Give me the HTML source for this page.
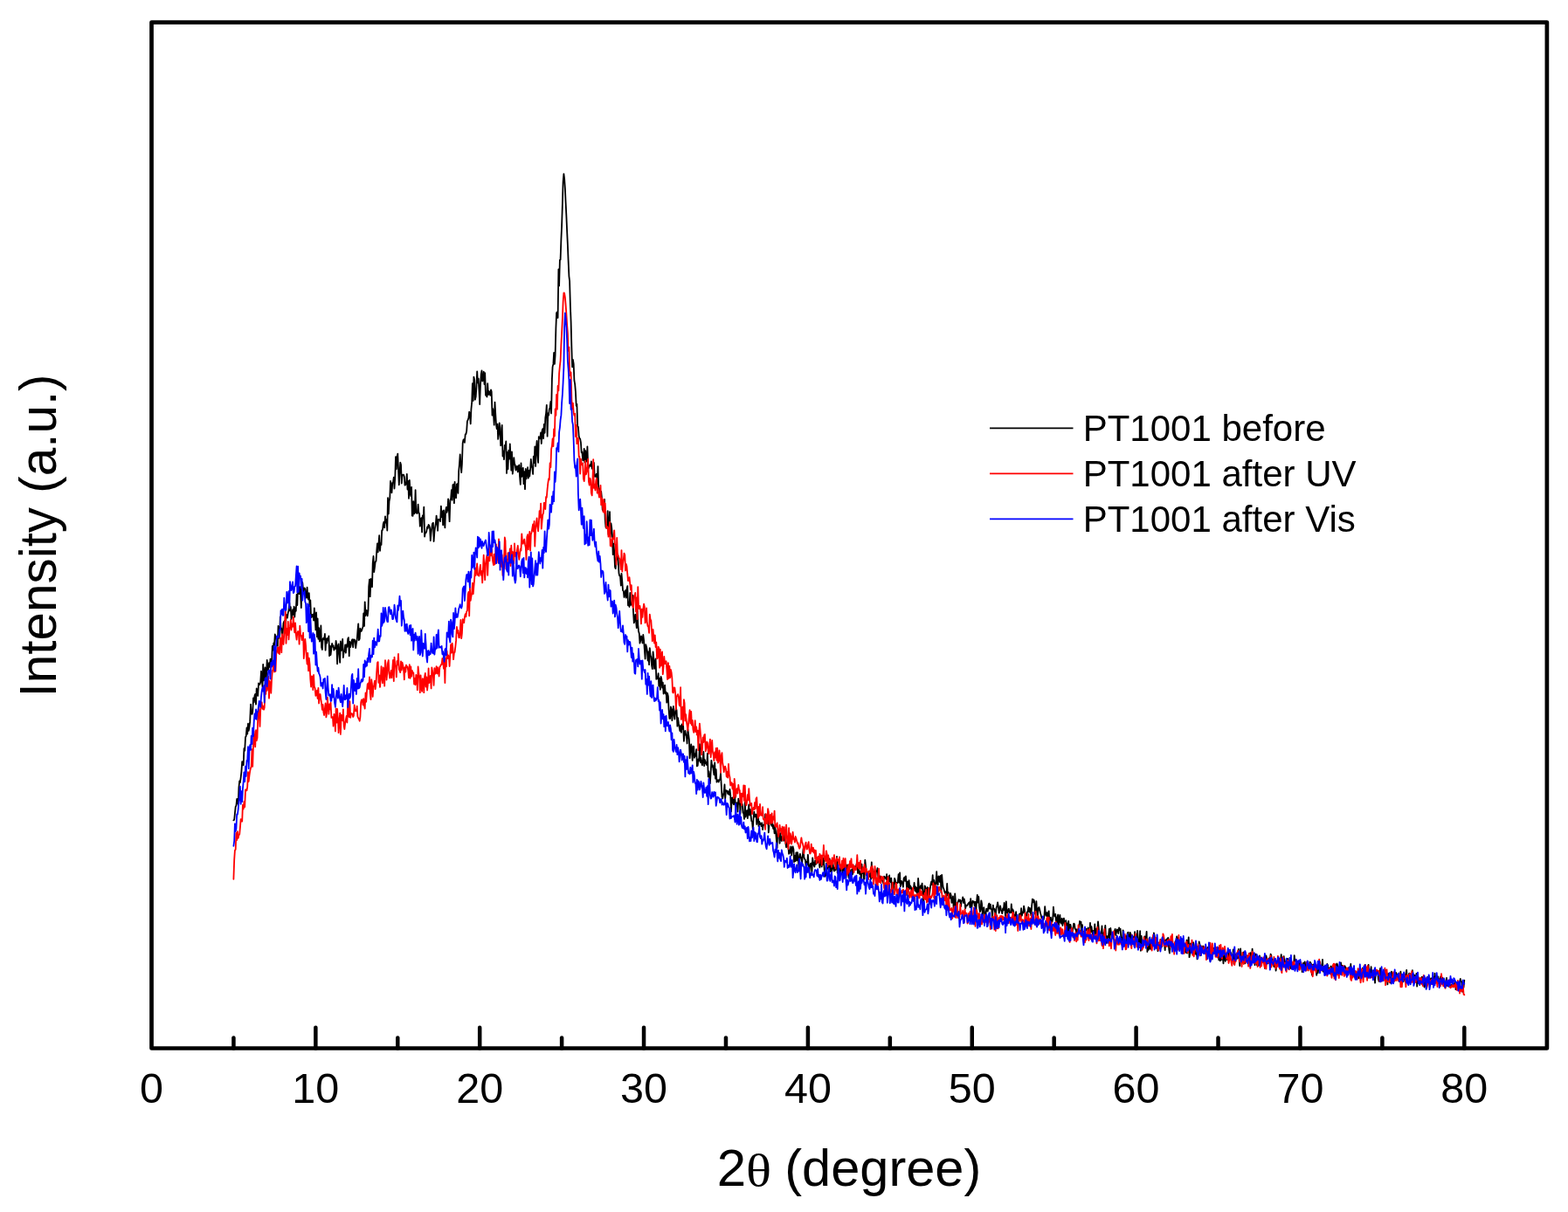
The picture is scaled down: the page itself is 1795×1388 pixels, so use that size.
<!DOCTYPE html>
<html><head><meta charset="utf-8"><title>XRD</title>
<style>
html,body{margin:0;padding:0;background:#fff;}
body{width:1795px;height:1388px;overflow:hidden;}
svg{display:block;}
text{font-family:"Liberation Sans",Arial,sans-serif;fill:#000;}
</style></head><body>
<svg width="1795" height="1388" viewBox="0 0 1795 1388">
<rect x="0" y="0" width="1795" height="1388" fill="#fff"/>
<g fill="none" stroke-linejoin="round" stroke-linecap="round" stroke-width="1.8">
<path stroke="#000" d="M267.4 939.4l.8 -.7 .7 -7.1 .8 -7.8 .7 -1 .8 -8 .7 2.7 .8 3.7 .7 -19.2 .8 -7.6 .7 1.7 .8 -6 .7 -6.3 .8 -11.7 .7 2.7 .8 1.5 .7 -19.1 .8 2.4 .8 -15.5 .7 -.8 .8 -9.8 .7 7.2 .8 -12 .7 8.1 .8 -4.4 .7 -6 .8 -19.8 .7 10.7 .8 .6 .7 -2 .8 -16.4 .7 4.9 .8 -7.5 .7 -2 .8 11.8 .7 -18.2 .8 3.4 .7 5 .8 -14.4 .7 1.6 .8 -.4 .7 -2.4 .8 -12.6 .7 8.9 .8 8.9 .7 -25.7 .8 18.5 .7 -7.5 .8 -7.5 .7 20.9 .8 -11.5 .7 -17.7 .8 9.2 .7 2.5 .8 -8.5 .8 4.7 .7 -9.3 .8 3 .7 3.4 .8 -21 .7 4.6 .8 -8.1 .7 3.1 .8 -13.2 .7 3.4 .8 1.7 .7 7.8 .8 .6 .7 -23 .8 3.1 .7 10.9 .8 -24.4 .7 11.8 .8 1.8 .7 10.4 .8 -6.4 .7 -10.4 .8 -2 .7 -.7 .8 13.6 .7 -19.5 .8 -1.1 .7 3.6 .8 -6.1 .7 -2.2 .8 -9.1 .7 9.2 .8 -4.2 .7 14 .8 -4.8 .8 -6.3 .7 5.9 .8 -9.4 .7 12 .8 -10.4 .7 3.6 .8 -19 .7 12.2 .8 -20.9 .7 -5.5 .8 13.5 .7 -7.9 .8 7.1 .7 16.7 .8 -29.7 .7 1 .8 7.7 .7 3.3 .8 -5 .7 1.2 .8 10 .7 .2 .8 -12 .7 10.8 .8 3.1 .7 -7.4 .8 14.8 .7 -6.7 .8 19.9 .7 -3.4 .8 2.6 .7 -2.7 .8 7 .7 -14.3 .8 9.8 .8 15.2 .7 -19.9 .8 27.8 .7 -20.9 .8 23.4 .7 -12.6 .8 15.4 .7 -4.6 .8 -13.5 .7 25 .8 2.5 .7 -12.3 .8 -1.1 .7 1.7 .8 -6.3 .7 18.7 .8 -13.3 .7 5.1 .8 -5.5 .7 2.3 .8 -4.8 .7 22.6 .8 -11.4 .7 10.3 .8 -7.6 .7 -5.4 .8 3.7 .7 -1.5 .8 5.4 .7 -2.8 .8 1.1 .7 -8.9 .8 5.1 .7 21.2 .8 -19.7 .7 -3.1 .8 12 .8 9.3 .7 -24.3 .8 10.7 .7 -3.6 .8 -9.6 .7 21 .8 -7 .7 .2 .8 -7.9 .7 9.4 .8 -9.4 .7 2.5 .8 -9.1 .7 -1.6 .8 21.2 .7 -16.4 .8 6.2 .7 -3.4 .8 -4.2 .7 -1.3 .8 9.1 .7 -8.9 .8 .3 .7 .5 .8 8.9 .7 -5.5 .8 -3.9 .7 -9.6 .8 -8.7 .7 18.7 .8 -1.6 .7 -11.9 .8 3.5 .7 -.6 .8 -2.5 .8 -2.2 .7 -15.3 .8 14.4 .7 -27.6 .8 15.8 .7 -6.2 .8 .4 .7 6.1 .8 -6.6 .7 -27 .8 -8.2 .7 19.5 .8 -20.1 .7 5.4 .8 3.9 .7 -26.9 .8 -8.4 .7 18 .8 -5.7 .7 -6.1 .8 -.5 .7 -11.4 .8 -8.9 .7 10 .8 -10.2 .7 -9.1 .8 17.7 .7 -8.3 .8 1.4 .7 -16.6 .8 -.3 .7 -6.8 .8 -2.6 .7 6.8 .8 -13.1 .7 7.4 .8 -3.9 .8 12.7 .7 -37.4 .8 18.4 .7 -14.1 .8 -4.2 .7 -19.2 .8 5.2 .7 8.1 .8 -11.3 .7 -.7 .8 -5.7 .7 12.9 .8 -13.2 .7 -23.2 .8 14.2 .7 -13.8 .8 -3.9 .7 17.3 .8 18.4 .7 -13.3 .8 -12.3 .7 2.5 .8 21.3 .7 -9.4 .8 -.5 .7 0 .8 2.5 .7 9.6 .8 -.7 .7 -1.5 .8 -10.6 .7 17.6 .8 -9.7 .7 20 .8 -21 .8 14 .7 4.2 .8 -10.2 .7 32.9 .8 .1 .7 -16.6 .8 14.2 .7 -2.3 .8 -24.9 .7 26.3 .8 -1.9 .7 2.4 .8 -10.4 .7 8.9 .8 1.8 .7 14.3 .8 -7.2 .7 -2.2 .8 16.2 .7 -19 .8 2.9 .7 -12.6 .8 33.9 .7 -4.8 .8 .4 .7 -1.8 .8 -4.9 .7 1.5 .8 -4 .7 .9 .8 2.8 .7 14.4 .8 -9 .7 -5.7 .8 -5 .8 -.6 .7 21.2 .8 -11.1 .7 -5 .8 -4.9 .7 -8.4 .8 9.1 .7 8.1 .8 -13.2 .7 .8 .8 -.8 .7 2.5 .8 -17.4 .7 12.5 .8 -6.9 .7 16 .8 -17 .7 12 .8 8.1 .7 -19.3 .8 -4.3 .7 6 .8 -3.7 .7 -11.7 .8 12.4 .7 13.3 .8 -24.4 .7 -1.4 .8 -10.2 .7 11.7 .8 -17.5 .7 -.7 .8 21.5 .7 -24.3 .8 17.1 .7 1.4 .8 -15.8 .8 -.4 .7 10.7 .8 -25.2 .7 -7.7 .8 -11.5 .7 10.3 .8 10.5 .7 -9.7 .8 -24 .7 -3.6 .8 -.9 .7 3.8 .8 -9.5 .7 -.1 .8 -3.7 .7 -10.9 .8 -1.9 .7 -1.8 .8 -7.2 .7 2.4 .8 11.3 .7 -16.5 .8 -8.5 .7 -21.2 .8 19.7 .7 -27.3 .8 3.7 .7 22.4 .8 -3.3 .7 -10.7 .8 -18.3 .7 12.9 .8 -4.7 .7 12.9 .8 16.5 .8 -22.9 .7 -11.4 .8 -4.4 .7 12.2 .8 -.9 .7 -10 .8 14.4 .7 -12.8 .8 25.4 .7 .5 .8 1.4 .7 -15.3 .8 12.9 .7 -4 .8 .6 .7 4.2 .8 -6.5 .7 2.1 .8 27.2 .7 -7.5 .8 7.3 .7 11.1 .8 -26 .7 12.8 .8 12.8 .7 4.9 .8 -5.4 .7 17.2 .8 -6.1 .7 -12.4 .8 5.5 .7 20.4 .8 -1.3 .7 -22.2 .8 35.7 .8 -5.9 .7 9.5 .8 -16.2 .7 2.4 .8 -7 .7 36.6 .8 -24 .7 19.5 .8 -21.5 .7 9.8 .8 -17.2 .7 14.7 .8 15.5 .7 -21.2 .8 25.2 .7 -6 .8 -12.6 .7 6.8 .8 1.9 .7 5.7 .8 -3.3 .7 -1.4 .8 6.7 .7 -6.2 .8 -1.8 .7 13 .8 9.4 .7 -24.4 .8 15.4 .7 -6.7 .8 -3.4 .7 18.3 .8 -14 .7 20.1 .8 -23.2 .7 11.3 .8 -6.9 .8 -6.2 .7 12.5 .8 -8.7 .7 6.5 .8 -7.8 .7 -11.7 .8 8.8 .7 .3 .8 7.9 .7 -20.3 .8 7.4 .7 -18.8 .8 22.6 .7 -19.5 .8 -9.4 .7 15.5 .8 9.4 .7 -29.8 .8 1.6 .7 .5 .8 -6.9 .7 12.7 .8 -15 .7 -1.8 .8 11.1 .7 -16.4 .8 9.9 .7 -17.3 .8 -5.2 .7 -9.5 .8 35.9 .7 -26.4 .8 2.4 .7 -6.8 .8 -2.5 .8 -6.5 .7 13.5 .8 -39.3 .7 -14 .8 -3.2 .7 -12.9 .8 12.9 .7 -10.1 .8 -31.4 .7 -17.1 .8 -1.1 .7 6.8 .8 -55.7 .7 19 .8 -29.6 .7 -.5 .8 -23.2 .7 -15.4 .8 -25.3 .7 -24.7 .8 -9.5 .7 5.2 .8 11.7 .7 15.7 .8 16.1 .7 16.3 .8 16.9 .7 17.4 .8 17.9 .7 5.5 .8 28.8 .7 17.1 .8 31.1 .7 21.5 .8 -8.5 .8 5.2 .7 18.7 .8 4.4 .7 8.2 .8 16.4 .7 -1.8 .8 25.7 .7 .2 .8 10.8 .7 2.1 .8 1.1 .7 3.8 .8 11.7 .7 -.8 .8 9.8 .7 -.8 .8 -12.6 .7 15.7 .8 -13.4 .7 8.3 .8 4.2 .7 -17.3 .8 22.9 .7 1.6 .8 -2.1 .7 -1.6 .8 1.5 .7 -5.2 .8 8.1 .7 -1.9 .8 7.4 .7 -12.1 .8 15.6 .7 .2 .8 -1.5 .7 -1.6 .8 11.6 .8 -20.2 .7 24.2 .8 1.3 .7 4.3 .8 5.2 .7 -6.1 .8 8 .7 12.6 .8 1.3 .7 .9 .8 -13.9 .7 22.9 .8 8.9 .7 1.1 .8 -4.9 .7 -14.7 .8 26.8 .7 -7.8 .8 -18.1 .7 28.5 .8 -15.1 .7 4.8 .8 9.4 .7 21.3 .8 -12.4 .7 9.4 .8 17.3 .7 1.8 .8 -12.6 .7 2.1 .8 -6.2 .7 8.5 .8 13.6 .7 2.8 .8 .2 .8 11 .7 -13.6 .8 9.2 .7 9.8 .8 1.2 .7 6.9 .8 -3.7 .7 -4.1 .8 8.4 .7 -10 .8 -3.5 .7 22.2 .8 -3.6 .7 5.3 .8 -16 .7 13.8 .8 -.1 .7 -.5 .8 -10.5 .7 19 .8 12.7 .7 -2.8 .8 -6.9 .7 6.9 .8 8.6 .7 -25.1 .8 20.9 .7 7.7 .8 3.1 .7 10.8 .8 -3 .7 -5.2 .8 1.9 .7 6.2 .8 -9.5 .8 6.4 .7 10.1 .8 11 .7 -16.3 .8 2.8 .7 3.9 .8 11.6 .7 -10 .8 14.6 .7 -19 .8 8.4 .7 1.6 .8 10.1 .7 4 .8 -19.7 .7 6.9 .8 12.5 .7 -6.3 .8 -5.2 .7 23.4 .8 -2.5 .7 2 .8 -6.1 .7 14.4 .8 -8.6 .7 12.8 .8 -14.8 .7 2.2 .8 10.3 .7 -5.9 .8 12.9 .7 -1.8 .8 -8.1 .7 9.8 .8 -1.8 .7 12 .8 -10.7 .8 3.5 .7 15.2 .8 10.3 .7 0 .8 -13.4 .7 3.3 .8 12.4 .7 -11.3 .8 -4.9 .7 10.4 .8 4.3 .7 -8.4 .8 -4.8 .7 3.2 .8 18 .7 -9.6 .8 6.3 .7 4.1 .8 4.6 .7 -6 .8 7.8 .7 -9.4 .8 5.4 .7 -3.9 .8 17.8 .7 -7.7 .8 -4.2 .7 4.2 .8 2.1 .7 8.3 .8 -16.4 .7 5.5 .8 6.2 .7 21.5 .8 -9.1 .8 -6.9 .7 7.3 .8 11.3 .7 -16.2 .8 .2 .7 12.9 .8 -4.3 .7 2.4 .8 -7.8 .7 19.3 .8 -.6 .7 -7.5 .8 1.9 .7 -19.1 .8 20.8 .7 -5.1 .8 5.7 .7 2.8 .8 -6.4 .7 -8.9 .8 16.2 .7 -7 .8 4.1 .7 -1 .8 2.9 .7 -13.3 .8 26.6 .7 -6.2 .8 7 .7 7 .8 -13.7 .7 -12.7 .8 7.2 .7 -1.7 .8 5.9 .7 5.1 .8 -14 .8 18.2 .7 -10.5 .8 14.6 .7 -1.9 .8 -.6 .7 2.4 .8 -2.7 .7 0 .8 -7.1 .7 12.5 .8 14.1 .7 1.9 .8 -3.8 .7 -3.3 .8 -8.7 .7 16.1 .8 -9.5 .7 1 .8 -.5 .7 3.6 .8 -2.7 .7 3.5 .8 -6 .7 6 .8 19.4 .7 -15.5 .8 -.4 .7 6.1 .8 1.8 .7 -12.2 .8 6.7 .7 8.2 .8 -4.1 .7 -.7 .8 10.4 .8 -15 .7 5.9 .8 -3.4 .7 14.7 .8 -22.6 .7 9.9 .8 2.2 .7 9.3 .8 .8 .7 6.5 .8 -19.2 .7 16.8 .8 -6 .7 -1.5 .8 9.1 .7 -8.9 .8 -6.9 .7 12.3 .8 -6.9 .7 6.3 .8 7.4 .7 .2 .8 9 .7 -11.5 .8 -8.5 .7 5.6 .8 -.8 .7 -1.8 .8 11.3 .7 -7.1 .8 -8.7 .7 18.1 .8 -5.3 .7 3.2 .8 -1.5 .8 3.5 .7 -3.9 .8 7.9 .7 -5.4 .8 -.2 .7 .1 .8 -12.4 .7 8.6 .8 -.6 .7 3.1 .8 -10.3 .7 20.3 .8 -9.6 .7 -8.1 .8 -2.4 .7 10.4 .8 2.2 .7 -3.2 .8 6.3 .7 -3.8 .8 9.1 .7 -7.1 .8 5.9 .7 8.1 .8 10 .7 -20.2 .8 4.7 .7 -1.4 .8 11.5 .7 -11.6 .8 5.2 .7 3.8 .8 -5.3 .7 1 .8 4 .7 -9.6 .8 5.1 .8 7.5 .7 4.5 .8 -1.3 .7 -9.2 .8 9.2 .7 8.8 .8 -.8 .7 -3.3 .8 -4.4 .7 10.2 .8 -7 .7 -3.1 .8 2.9 .7 14.7 .8 -7.2 .7 6.3 .8 -9.9 .7 9.2 .8 -9.4 .7 3.1 .8 15.6 .7 -9.3 .8 -7.7 .7 2.9 .8 2.9 .7 5.9 .8 -10.2 .7 -7.4 .8 9.5 .7 2.3 .8 1 .7 7.9 .8 -5.8 .7 3.5 .8 -11.4 .8 12.6 .7 8 .8 -7.7 .7 -2.8 .8 -.3 .7 10.2 .8 -16.6 .7 5 .8 3.5 .7 1.8 .8 -7.3 .7 4.6 .8 -3.6 .7 2.4 .8 -1.5 .7 -6.2 .8 6.9 .7 5.6 .8 -11.2 .7 4.6 .8 5.7 .7 -10.4 .8 7.9 .7 -7.4 .8 13.7 .7 7.4 .8 -1.4 .7 -13.5 .8 6.2 .7 -3.5 .8 .1 .7 9.1 .8 -17.3 .7 14.7 .8 -6.5 .8 9.1 .7 -7.3 .8 -5 .7 6 .8 3.1 .7 -4.1 .8 3 .7 -5.9 .8 -9.6 .7 18.7 .8 -1 .7 -3.1 .8 -.3 .7 6.1 .8 -8.8 .7 -1.3 .8 3.4 .7 8.6 .8 -15.3 .7 15.9 .8 -10.8 .7 -2.4 .8 14.5 .7 -7.9 .8 -7 .7 5.9 .8 8.1 .7 1.7 .8 -9.6 .7 5.2 .8 1.9 .7 -8.1 .8 5.9 .7 -3.3 .8 -4.4 .7 -1.4 .8 2 .8 -1 .7 -3.6 .8 .9 .7 9.5 .8 -5.4 .7 4.3 .8 2.2 .7 -3.4 .8 10.5 .7 -18.5 .8 10.3 .7 -6.4 .8 13.5 .7 -.5 .8 -21.7 .7 6.5 .8 10.3 .7 1.2 .8 .1 .7 -4.4 .8 3.6 .7 1.6 .8 -4 .7 7.1 .8 -19.4 .7 17.7 .8 -9.7 .7 12.3 .8 -6.9 .7 -3.7 .8 7.8 .7 -7.4 .8 .2 .7 -3.7 .8 9.5 .8 3.3 .7 3.3 .8 -6.7 .7 7.3 .8 -5.9 .7 -.5 .8 4.2 .7 3.1 .8 -8.1 .7 .8 .8 .7 .7 1.6 .8 -5.6 .7 11.7 .8 -8.3 .7 5.4 .8 -7.4 .7 7.2 .8 .5 .7 -4.6 .8 14.7 .7 -9.4 .8 8.6 .7 -4.5 .8 -9.2 .7 1.9 .8 5.2 .7 -1.8 .8 .3 .7 -1.6 .8 -8.6 .7 9.6 .8 -11.3 .7 15.6 .8 -6.1 .8 .4 .7 3.2 .8 3.2 .7 -9.7 .8 -1.5 .7 4.2 .8 -5.4 .7 6.5 .8 15 .7 -15.2 .8 10.1 .7 -11.7 .8 9.8 .7 -3.5 .8 1.6 .7 3.7 .8 6.9 .7 -9 .8 -.3 .7 -6.3 .8 9.1 .7 -4.8 .8 6.4 .7 -5 .8 10.5 .7 -21.4 .8 10.1 .7 7.1 .8 -6.7 .7 -2.2 .8 3.5 .7 -6 .8 9 .7 12.9 .8 -6.3 .7 -12.8 .8 1.5 .8 2.8 .7 8 .8 -10.5 .7 .6 .8 8.9 .7 -.3 .8 -7.4 .7 -4.7 .8 -3.6 .7 3.3 .8 -10.8 .7 15.5 .8 -9.8 .7 4.6 .8 6.1 .7 -5.8 .8 -14.6 .7 12.3 .8 2.8 .7 -9.8 .8 .3 .7 6.3 .8 -7.3 .7 19.5 .8 -20.5 .7 8.5 .8 6.2 .7 1.4 .8 3.3 .7 1.6 .8 -1.7 .7 8.7 .8 -17.8 .7 13.1 .8 -3.2 .8 5.6 .7 1.3 .8 -5.8 .7 2.2 .8 8.7 .7 -2 .8 -5.4 .7 15.7 .8 1.9 .7 -20.8 .8 10.3 .7 11.5 .8 -8.1 .7 -2.9 .8 -2.1 .7 -1.7 .8 2.1 .7 -1.7 .8 7.4 .7 -6.3 .8 -.1 .7 -4.2 .8 6.5 .7 -4.6 .8 4 .7 6.9 .8 -3.7 .7 .8 .8 -.7 .7 -1.6 .8 -1 .7 -.9 .8 6 .7 -10.1 .8 13.7 .8 -7.1 .7 -4.1 .8 1.7 .7 -.8 .8 4.9 .7 -4.6 .8 10.6 .7 -10.4 .8 -8.1 .7 8.8 .8 -6.8 .7 11 .8 6.3 .7 -2.1 .8 -10.8 .7 3.3 .8 14.2 .7 -7.9 .8 -1.6 .7 5.9 .8 7 .7 -5.4 .8 -6.2 .7 1.4 .8 1.6 .7 -6.7 .8 -2.3 .7 6.3 .8 -5.3 .7 5 .8 1 .7 12.3 .8 -17.2 .7 4.2 .8 -.1 .7 3.4 .8 3.5 .8 -8.2 .7 -1.7 .8 -4.3 .7 4 .8 8.2 .7 -2.5 .8 -5.7 .7 3.7 .8 2.3 .7 2.7 .8 -5.8 .7 2 .8 -8.4 .7 3.8 .8 15.2 .7 -20.6 .8 10.3 .7 3.2 .8 -3.1 .7 -2.2 .8 4.3 .7 .5 .8 -.3 .7 -9.6 .8 9.6 .7 -3.7 .8 1.9 .7 4.3 .8 2.4 .7 1.6 .8 -7.5 .7 7.9 .8 1.4 .7 -.1 .8 1.5 .8 -8.2 .7 -.1 .8 5.4 .7 -11.8 .8 8.5 .7 -4 .8 .7 .7 -7.6 .8 4.3 .7 4.3 .8 4.5 .7 .1 .8 -6.3 .7 -1.1 .8 -4.5 .7 5.7 .8 -4.8 .7 3.5 .8 5.3 .7 -10.5 .8 -8.5 .7 3.6 .8 -3 .7 1.9 .8 14.4 .7 -5.4 .8 -9 .7 12.5 .8 3.8 .7 -8.4 .8 -1.2 .7 2.4 .8 4 .7 2.4 .8 3.4 .7 .6 .8 .2 .8 1.3 .7 -3.5 .8 -11.6 .7 7.9 .8 2.7 .7 -3.5 .8 7.4 .7 -6.6 .8 -2.7 .7 13.2 .8 -3.9 .7 -2 .8 4.2 .7 1.1 .8 -3.5 .7 -13.7 .8 9.1 .7 1.5 .8 -2.4 .7 6.7 .8 5.6 .7 -8.6 .8 -3.1 .7 17.2 .8 -12.9 .7 -3.8 .8 8.1 .7 1.4 .8 -5.7 .7 8.2 .8 -6.4 .7 -2 .8 6.2 .7 3.4 .8 -7.1 .8 5.4 .7 -1.9 .8 12.8 .7 -15.5 .8 11.3 .7 -7.3 .8 -.1 .7 4.7 .8 1.2 .7 2.2 .8 -4.7 .7 -4.6 .8 .6 .7 5.7 .8 .6 .7 4.5 .8 -4.9 .7 3.5 .8 2.6 .7 -6.8 .8 -8.4 .7 1.8 .8 -1.1 .7 15.9 .8 -12.5 .7 11 .8 -3.1 .7 6 .8 -3.5 .7 -5.6 .8 -.3 .7 1.7 .8 .6 .7 -3.5 .8 2.7 .8 8.7 .7 -17 .8 10.3 .7 -5.9 .8 5.8 .7 3.5 .8 -4.5 .7 4.4 .8 -12 .7 14 .8 -8.7 .7 6.4 .8 -2.2 .7 -12.6 .8 8 .7 5.1 .8 7 .7 -6.4 .8 -.1 .7 -8.4 .8 14.6 .7 2.1 .8 -9 .7 -1.2 .8 -7.1 .7 13 .8 7.3 .7 -8 .8 3 .7 -3.6 .8 -7.7 .7 12 .8 -13 .7 5.4 .8 2.7 .7 3.3 .8 -2.2 .8 0 .7 -5.7 .8 -2.5 .7 7.1 .8 -3.7 .7 -2.9 .8 .5 .7 4.1 .8 -6.7 .7 2.8 .8 -1.3 .7 9.4 .8 1.4 .7 8.3 .8 -17.6 .7 4.4 .8 8.2 .7 -5.5 .8 -.4 .7 10.5 .8 -10.2 .7 -3.9 .8 -.7 .7 8.5 .8 0 .7 -8.2 .8 2.1 .7 7.8 .8 .3 .7 -5.9 .8 6.5 .7 -.1 .8 -11.6 .7 7.5 .8 3.8 .8 -4.8 .7 -7.7 .8 9.4 .7 5.4 .8 4.2 .7 -18.7 .8 22.6 .7 -17 .8 10.6 .7 1.5 .8 -1.2 .7 -4 .8 -6.4 .7 9 .8 -6.6 .7 -7.8 .8 23.1 .7 -7.9 .8 5.7 .7 -13.5 .8 11.9 .7 .7 .8 -.1 .7 -7.7 .8 -5.8 .7 5.2 .8 -10 .7 2.5 .8 9 .7 -5.3 .8 4.1 .7 .3 .8 10.2 .7 -3.1 .8 -6.7 .8 6.3 .7 -9.8 .8 2.2 .7 6.2 .8 -10.7 .7 4.8 .8 -5.1 .7 7.1 .8 7.6 .7 -11.8 .8 4.9 .7 -5.6 .8 -1.2 .7 -.4 .8 13.3 .7 4.3 .8 -9 .7 -5.9 .8 7.1 .7 -5.1 .8 5.6 .7 -2.4 .8 0 .7 1.6 .8 -5.8 .7 1 .8 -6.4 .7 6.5 .8 -4.7 .7 6.5 .8 -3.9 .7 5.4 .8 2 .7 -9 .8 3.2 .7 -.4 .8 8.5 .8 5 .7 -4 .8 -5.6 .7 9.1 .8 -14.3 .7 15 .8 -10.3 .7 -7.8 .8 22.7 .7 -3.3 .8 -12.5 .7 6.1 .8 -1.6 .7 1.7 .8 -7.5 .7 4 .8 5.8 .7 -1 .8 4.9 .7 -5.3 .8 10.9 .7 -14.5 .8 4.9 .7 -10.4 .8 3.4 .7 12.6 .8 -10.9 .7 7.3 .8 -2.7 .7 -4.6 .8 3.5 .7 -.7 .8 .2 .7 6.2 .8 -.4 .8 -5.8 .7 -1.5 .8 5.9 .7 -1.7 .8 5.5 .7 6.3 .8 -6.9 .7 -4.1 .8 -.5 .7 -3.2 .8 -.1 .7 -.3 .8 3 .7 0 .8 5.7 .7 -5.3 .8 1.1 .7 -4.8 .8 13.8 .7 -5.3 .8 6.2 .7 -4.6 .8 3.4 .7 -8.1 .8 4.7 .7 7.7 .8 -16.7 .7 11.5 .8 2.6 .7 -5.9 .8 1.7 .7 2.6 .8 -9.2 .7 5.3 .8 -6.1 .8 1.1 .7 .4 .8 2.4 .7 1.5 .8 1.6 .7 -8.9 .8 16.6 .7 -3.9 .8 -2 .7 -5.1 .8 1.4 .7 3.2 .8 -.5 .7 -10 .8 11.8 .7 7.4 .8 -19.7 .7 13.9 .8 -2.9 .7 -2.3 .8 7.3 .7 -12.2 .8 6.6 .7 6.4 .8 -7.9 .7 -1 .8 2.7 .7 -2.6 .8 9.8 .7 -11.8 .8 8.7 .7 -10.1 .8 9.4 .7 -3.6 .8 -10.2 .7 10.9 .8 -5 .8 3.1 .7 9.6 .8 -12.6 .7 .4 .8 12.1 .7 -6.3 .8 7 .7 -5.7 .8 -5.7 .7 4 .8 6.3 .7 -1.2 .8 -4.4 .7 .3 .8 -.7 .7 -2.1 .8 12.2 .7 -9.2 .8 -5.3 .7 3.3 .8 5.8 .7 -.3 .8 -3.6 .7 -2.4 .8 3.4 .7 -8 .8 1.9 .7 10.1 .8 -6 .7 4.2 .8 4.2 .7 -2.6 .8 -2.9 .7 10.1 .8 -6.8 .8 -4.7 .7 5.2 .8 -1.4 .7 -5.9 .8 4.5 .7 -1 .8 -8.4 .7 8.6 .8 -.4 .7 -.6 .8 -5.6 .7 6.2 .8 1.6 .7 .8 .8 -5.7 .7 8.4 .8 -8.6 .7 4.8 .8 7.3 .7 -9.3 .8 .9 .7 7.6 .8 -6.8 .7 .5 .8 2.6 .7 4 .8 -15.3 .7 6.6 .8 -.8 .7 -.2 .8 1.1 .7 .2 .8 5.4 .7 -5.5 .8 4.8 .8 1.4 .7 -5.2 .8 4.1 .7 7.1 .8 -6.1 .7 -4.4 .8 2.8 .7 -3.9 .8 5.6 .7 2.9 .8 -7.8 .7 2.9 .8 6.3 .7 -7.4 .8 3.2 .7 -5.5 .8 1.1 .7 1.5 .8 12.4 .7 -11.7 .8 -.4 .7 -.1 .8 1.9 .7 3.9 .8 -2 .7 8.6 .8 -8.3 .7 5.7 .8 -5.2 .7 1.6 .8 -9.1 .7 6.1 .8 .4 .7 -.7 .8 -8.5 .7 13.8 .8 -5.6 .8 -.1 .7 1 .8 .2 .7 3 .8 -7.4 .7 1.6 .8 5.7 .7 -.6 .8 -2.2 .7 -.8 .8 -1 .7 3.6 .8 5.7 .7 -10 .8 11.7 .7 -2.9 .8 -5.7 .7 5.7 .8 -10 .7 -1.1 .8 2.1 .7 4 .8 .5 .7 -.7 .8 2.8 .7 -9.9 .8 11.9 .7 -8.5 .8 3.5 .7 1.2 .8 -3.3 .7 -.8 .8 1.7 .7 4.5 .8 2.8 .8 -.1 .7 -6.8 .8 .9 .7 -.4 .8 6.1 .7 -11 .8 14.7 .7 -7.6 .8 -1.3 .7 5.1 .8 3.2 .7 -3 .8 3.2 .7 -4 .8 4.9 .7 .2 .8 -5.9 .7 6.9 .8 -5.6 .7 -.3 .8 -4.4 .7 2.9 .8 4.8 .7 -9.2 .8 8.7 .7 -1.2 .8 -.3 .7 -10.9 .8 9.4 .7 3.4 .8 -6.2 .7 3.9 .8 -10.5 .7 13.2 .8 -5.8 .7 6.8 .8 -11.9 .8 11.3 .7 -4.1 .8 4.7 .7 -7.6 .8 1.5 .7 12.6 .8 -13.4 .7 .6 .8 2 .7 -3.2 .8 9.8 .7 2.4 .8 -10.6 .7 -4.4 .8 12.9 .7 -.2 .8 -1.2 .7 1.5 .8 -8.7 .7 3.1 .8 -5.2 .7 -.1 .8 10.6 .7 -7.1 .8 13 .7 -9.6 .8 -3 .7 6.4 .8 4.5 .7 -5.7 .8 -7.3 .7 7 .8 4.5 .7 -8 .8 -1.2 .8 7.9 .7 -3.7 .8 -5.3 .7 3.2 .8 -1.5 .7 4.7 .8 -.7 .7 4.6 .8 -1.8 .7 -9.8 .8 8.7 .7 2.2 .8 -1.8 .7 2.6 .8 -6.8 .7 -1.6 .8 8.2 .7 -8.5 .8 -4.7 .7 13.9 .8 -7.5 .7 1.9 .8 -4.6 .7 .4 .8 .8 .7 3.5 .8 3.3 .7 -11.4 .8 13.2 .7 -8.2 .8 .5 .7 7.6 .8 -3.1 .7 -6.2 .8 14.6 .8 -11.6 .7 4.9 .8 -.2 .7 5.3 .8 -7.9 .7 6.3 .8 -7.4 .7 8 .8 -8 .7 1.8 .8 9.7 .7 -6.7 .8 -.8 .7 9.2 .8 -8 .7 -5 .8 6.7 .7 -8.1 .8 9.9 .7 .4 .8 -7.6 .7 -.1 .8 3.5 .7 -.7 .8 -4.2 .7 6.7 .8 -11.1 .7 7 .8 .1 .7 .7 .8 2.5 .7 -6.5 .8 7.8 .7 -3.2 .8 -1.9 .7 -3 .8 .9 .8 6.6 .7 -5.6 .8 4.5 .7 4.3 .8 0 .7 2.3 .8 -7.8 .7 -3.3 .8 9 .7 -2.9 .8 3.5 .7 -4.6 .8 5.1 .7 -1.4 .8 -.5 .7 -.8 .8 -.4 .7 -.6 .8 .1 .7 3.3 .8 -6.3 .7 9.6 .8 -7.7 .7 4.7 .8 -4.5 .7 -.5 .8 9.7 .7 -9.8 .8 -4 .7 2.5 .8 1.7 .7 10.6 .8 -8.2 .7 3.2 .8 -8.1"/>
<path stroke="#f00" d="M267.4 1006.8l.8 -22.4 .7 -10.4 .8 -1.3 .7 -18.7 .8 8.1 .7 -9.9 .8 7.6 .7 -3.5 .8 -.8 .7 -7.8 .8 -9.5 .7 2.1 .8 .3 .7 -18.8 .8 4.7 .7 -8.5 .8 6.3 .8 -19.8 .7 -.1 .8 1 .7 -4.3 .8 -17 .7 10.9 .8 -7.1 .7 -4.8 .8 -3.5 .7 -1.7 .8 -19.8 .7 19.7 .8 -24.1 .7 -16.5 .8 11.1 .7 7.1 .8 -19.3 .7 12.1 .8 -3.1 .7 -21.8 .8 -13.9 .7 5.9 .8 16.6 .7 -18.2 .8 -8 .7 -1.4 .8 7.6 .7 -3.2 .8 4 .7 -2.2 .8 -18.7 .7 3.1 .8 -11 .7 6.9 .8 -12.7 .7 -3.1 .8 24.7 .8 -19.7 .7 2.6 .8 11.2 .7 -15.2 .8 -10.2 .7 -1.5 .8 -9.7 .7 12.3 .8 -15.2 .7 14.5 .8 -20.9 .7 -3 .8 -3.4 .7 6.3 .8 -6.3 .7 7.7 .8 -19 .7 5 .8 12 .7 -21 .8 4.7 .7 7.1 .8 -11.1 .7 -12.6 .8 -14.4 .7 36.9 .8 -17 .7 7.3 .8 -15.1 .7 20.4 .8 -11 .7 -3.7 .8 -7.8 .7 11.6 .8 -6.9 .8 3 .7 -11.3 .8 11.1 .7 7 .8 -10.9 .7 12.9 .8 6.2 .7 -7.5 .8 -2.1 .7 .6 .8 14 .7 -20.9 .8 11.2 .7 -.4 .8 5.6 .7 -1 .8 -7.5 .7 29.5 .8 -12.9 .7 -9.3 .8 7.9 .7 12.6 .8 8.3 .7 -12.8 .8 20.4 .7 -14.7 .8 7.4 .7 16.3 .8 9.4 .7 -12.4 .8 .4 .7 15.3 .8 -17 .7 13.3 .8 1.9 .8 8.6 .7 -3.6 .8 -2.5 .7 9.3 .8 -12.1 .7 17.6 .8 -10.2 .7 -.3 .8 6.1 .7 4.9 .8 6.9 .7 -5.9 .8 8.9 .7 3.1 .8 -7.5 .7 -6 .8 15.9 .7 -4.4 .8 -18.3 .7 9.6 .8 9.5 .7 -11.4 .8 6 .7 -7.7 .8 17.2 .7 -.7 .8 -.1 .7 10.5 .8 -13.7 .7 .9 .8 18.6 .7 -25.9 .8 16.2 .7 -15.9 .8 12.4 .7 14.9 .8 -14.3 .8 -8.1 .7 24.2 .8 -22.2 .7 2.7 .8 4 .7 -13.1 .8 19.1 .7 3.6 .8 -7.1 .7 -3.8 .8 -4.3 .7 7.7 .8 -25.5 .7 16.7 .8 2.6 .7 -18.1 .8 18.6 .7 -4.8 .8 .2 .7 .6 .8 3.2 .7 -1.4 .8 -12.3 .7 6.8 .8 -1.1 .7 1.3 .8 -5.6 .7 11.8 .8 2 .7 1 .8 2.2 .7 -4.5 .8 -17 .7 -2.8 .8 0 .8 5.9 .7 -7.2 .8 7.4 .7 4 .8 -18 .7 10.3 .8 -12.2 .7 -8.1 .8 -1 .7 6.7 .8 -13.8 .7 18.5 .8 7.2 .7 -23 .8 5.6 .7 14.2 .8 -11 .7 -2.4 .8 -4.9 .7 9.5 .8 -6.7 .7 -12.5 .8 -10.9 .7 -.9 .8 23.7 .7 -8.4 .8 13.5 .7 -8.4 .8 -15.4 .7 12.4 .8 6.9 .7 -17.9 .8 2.9 .7 18.2 .8 -29.4 .7 5 .8 17.4 .8 -7.6 .7 -11.7 .8 -3.3 .7 15.1 .8 5.4 .7 -4.2 .8 -4.3 .7 8.3 .8 -10.4 .7 -9.9 .8 24 .7 -27.3 .8 9.3 .7 .6 .8 12.8 .7 -18.3 .8 4.2 .7 -12.4 .8 17.9 .7 1.2 .8 2.1 .7 -12.8 .8 10.2 .7 -8.9 .8 3.9 .7 3.9 .8 11.9 .7 -14.1 .8 5.5 .7 -8.1 .8 2.6 .7 -.7 .8 4.8 .7 8.1 .8 -15.2 .8 15.6 .7 -13.4 .8 11.3 .7 -6.8 .8 2.7 .7 -.1 .8 13 .7 -6.5 .8 7.3 .7 -11.4 .8 1.5 .7 15.7 .8 -26.6 .7 6.8 .8 6.1 .7 16.8 .8 -19.7 .7 11.8 .8 6.6 .7 -14.8 .8 .7 .7 15.3 .8 -18.2 .7 -4 .8 15.6 .7 -11 .8 15 .7 -6.3 .8 -18.9 .7 16.7 .8 -2.4 .7 -5.6 .8 14.4 .7 -23.9 .8 4.1 .8 6 .7 10.3 .8 -19.8 .7 6.8 .8 -1.4 .7 -7.4 .8 8.4 .7 -7.2 .8 4.9 .7 5.3 .8 -10.9 .7 -.6 .8 -2 .7 .1 .8 -7.1 .7 2.1 .8 9.7 .7 -9.6 .8 25.8 .7 -27.9 .8 9.3 .7 -18.1 .8 8.9 .7 -3.9 .8 2.3 .7 10.4 .8 -14.4 .7 -10.5 .8 9.6 .7 -11 .8 5.4 .7 13 .8 -7.4 .7 -.8 .8 -6.7 .7 -6.8 .8 -15.5 .8 6.9 .7 -2.9 .8 8.1 .7 .4 .8 -6.9 .7 -13.5 .8 21.1 .7 -5.7 .8 -16.3 .7 1.9 .8 2.1 .7 -6.4 .8 -3.6 .7 3.3 .8 -6.3 .7 -.6 .8 -18.8 .7 -2.8 .8 27.4 .7 -32.4 .8 15 .7 -4.6 .8 -4.1 .7 -11.5 .8 12.6 .7 -8.9 .8 -9 .7 -12 .8 8.6 .7 -5.5 .8 -8.1 .7 13.3 .8 .1 .7 .8 .8 -8.1 .8 -4.7 .7 11.8 .8 -4.5 .7 13.3 .8 -17 .7 -14.8 .8 17.1 .7 11.5 .8 -19.3 .7 -4.8 .8 -4.4 .7 23.1 .8 -20.1 .7 -1 .8 4.7 .7 -16.6 .8 10.5 .7 -9.6 .8 10.4 .7 6 .8 4.1 .7 -12.6 .8 11.8 .7 -11.3 .8 -11.7 .7 21.2 .8 -7.2 .7 3.1 .8 -23.1 .7 24.2 .8 .2 .7 -.1 .8 7.3 .7 -13.5 .8 23.4 .8 -13.6 .7 -2 .8 -27.8 .7 3.6 .8 32.4 .7 -10.6 .8 4.8 .7 -12.6 .8 2.2 .7 6.4 .8 -13.3 .7 19.6 .8 -23.3 .7 12.2 .8 -5 .7 5.6 .8 7.9 .7 -22.9 .8 14.3 .7 -3.8 .8 6.1 .7 -8.9 .8 -5.2 .7 8.7 .8 7.2 .7 -5.5 .8 -6.9 .7 2 .8 -19.2 .7 9.1 .8 2.3 .7 -3.2 .8 -2 .7 5.7 .8 3.7 .7 14 .8 -25.9 .8 -2.8 .7 17.2 .8 -9.2 .7 -11.4 .8 21.7 .7 -18.2 .8 -2.8 .7 -4.4 .8 -4.6 .7 8.2 .8 -11.7 .7 28.6 .8 -18.9 .7 -6.9 .8 -6.3 .7 8.9 .8 6 .7 -8.6 .8 -14.7 .7 7.4 .8 -15.9 .7 29 .8 -9.3 .7 -6.8 .8 -2 .7 -11.7 .8 .5 .7 6.9 .8 -14.3 .7 .9 .8 -9.7 .7 -6.4 .8 -5.5 .7 1.3 .8 -19 .8 4.6 .7 -20.6 .8 -3.9 .7 -8.3 .8 8.8 .7 -19.8 .8 8.3 .7 -31.2 .8 7.4 .7 -24 .8 16.9 .7 -26.8 .8 5.5 .7 -19.8 .8 -8.6 .7 -5.8 .8 -19.1 .7 -12.3 .8 -16.9 .7 -18.8 .8 -10.8 .7 .3 .8 5 .7 8.3 .8 11.1 .7 11.2 .8 11.1 .7 19.5 .8 -4.2 .7 26.3 .8 6.4 .7 -3.8 .8 31.1 .7 10.7 .8 -6.7 .8 11.3 .7 2.8 .8 -2.1 .7 26.3 .8 -13 .7 21.3 .8 -6 .7 -.4 .8 21.2 .7 -.1 .8 19.6 .7 -16.8 .8 4.8 .7 1.9 .8 -1.9 .7 17.5 .8 3.1 .7 -7.3 .8 -16.1 .7 15.7 .8 -3.1 .7 -4.3 .8 -10.3 .7 25.6 .8 4.2 .7 -7.9 .8 2.6 .7 14.3 .8 2.9 .7 -16 .8 -25.2 .7 32.7 .8 -4.2 .7 6.8 .8 -10.5 .7 -3.1 .8 16.8 .8 -6.2 .7 6 .8 5.2 .7 -1 .8 -12.9 .7 22.4 .8 -7.8 .7 6 .8 9.9 .7 -14.5 .8 15.7 .7 -11.2 .8 16.2 .7 12.2 .8 -1.6 .7 1.1 .8 10.5 .7 -7.4 .8 -9.5 .7 27.2 .8 -6.5 .7 7.3 .8 -9.7 .7 1.6 .8 -1.1 .7 -9.2 .8 15.9 .7 .8 .8 22.6 .7 -30.8 .8 20.2 .7 -.1 .8 2.8 .7 1 .8 5 .8 7.3 .7 -22 .8 24.5 .7 -9.1 .8 -5.2 .7 -6.7 .8 1.9 .7 18 .8 -7.5 .7 2.6 .8 8.7 .7 7.9 .8 -1.3 .7 -2.8 .8 7.7 .7 6.9 .8 -5.5 .7 19.6 .8 4.7 .7 1.4 .8 -13.4 .7 .7 .8 -4.3 .7 21.5 .8 -15.9 .7 24.6 .8 -36.9 .7 21.3 .8 3.6 .7 -3.2 .8 6.5 .7 14 .8 -16.7 .7 9.2 .8 -9.7 .8 -5.5 .7 3.3 .8 18.4 .7 -3 .8 -14 .7 16.9 .8 4 .7 .5 .8 7.1 .7 -21.2 .8 6.1 .7 .4 .8 12.3 .7 11.8 .8 -13.3 .7 8.8 .8 6.8 .7 -9.1 .8 13.5 .7 -5.4 .8 18.8 .7 -.6 .8 -13.2 .7 1.6 .8 22.4 .7 -21 .8 19 .7 -11.6 .8 -4.6 .7 25.8 .8 -9.3 .7 -10.9 .8 8.2 .7 -2.5 .8 -.4 .7 8.9 .8 11.8 .8 -18.9 .7 17.8 .8 -14.1 .7 13.4 .8 -9.2 .7 2.9 .8 7.3 .7 15.7 .8 .6 .7 -6.1 .8 .3 .7 5.3 .8 19.5 .7 -14.1 .8 -2.2 .7 -1.1 .8 3 .7 9.2 .8 1.3 .7 -21.4 .8 36.7 .7 -11.6 .8 -2.7 .7 20.7 .8 -29.1 .7 3.9 .8 20.3 .7 -7.3 .8 8.4 .7 4.1 .8 6.1 .7 -7.8 .8 -8.9 .7 -6.9 .8 15.4 .8 -13.5 .7 15.4 .8 -5.5 .7 10.4 .8 3.6 .7 -4.6 .8 -9.2 .7 13 .8 -5.6 .7 9.1 .8 -4.9 .7 22.4 .8 -20.9 .7 -9.5 .8 8.8 .7 8.7 .8 18.1 .7 -5.8 .8 -14.2 .7 5.7 .8 -8.1 .7 -.9 .8 19.3 .7 -2.9 .8 -7.9 .7 1.3 .8 9.6 .7 2.7 .8 -10.4 .7 -6.1 .8 20.5 .7 -11.6 .8 -7.6 .7 13.1 .8 3.7 .7 6.4 .8 -9.7 .8 6.2 .7 -10.7 .8 13.9 .7 -14.1 .8 16.9 .7 -2.4 .8 -11.8 .7 7.5 .8 17.9 .7 -19.2 .8 -3.4 .7 11.3 .8 4.6 .7 6.1 .8 -5.7 .7 -.9 .8 3.2 .7 8.7 .8 -5.5 .7 6.7 .8 -15.7 .7 11.7 .8 3.4 .7 9.4 .8 -2.8 .7 -.5 .8 7.3 .7 -5.5 .8 16.1 .7 -22.3 .8 8.1 .7 12.9 .8 -7 .7 -2.7 .8 5.6 .8 -9.8 .7 5 .8 1.3 .7 13.7 .8 -10.3 .7 13.7 .8 -13.6 .7 3.3 .8 -12.6 .7 17.5 .8 -17.2 .7 19.6 .8 3.1 .7 -3.1 .8 -9.2 .7 6.2 .8 -13.1 .7 11.8 .8 7.5 .7 -.8 .8 -1.7 .7 12.4 .8 -5.8 .7 -1.6 .8 2.1 .7 -7.9 .8 6.9 .7 -11.5 .8 -1.3 .7 13.9 .8 9.6 .7 -13 .8 10.9 .7 -13.9 .8 12.3 .8 .7 .7 .1 .8 -9.7 .7 13.7 .8 1.1 .7 -1 .8 11.9 .7 -17.8 .8 3.9 .7 7.2 .8 -17.1 .7 3.5 .8 14.4 .7 -8.8 .8 -2.1 .7 9.7 .8 -11.4 .7 11 .8 -7.1 .7 3.4 .8 -10.1 .7 17.4 .8 1 .7 -2.1 .8 -2.5 .7 6.7 .8 9 .7 -3.3 .8 -9.9 .7 6.9 .8 -2.6 .7 5.8 .8 -8.3 .7 15.7 .8 -14.4 .7 -.8 .8 9.5 .8 9.1 .7 -21.2 .8 12 .7 4.4 .8 11.3 .7 -24.1 .8 17.8 .7 -11.5 .8 3.2 .7 9 .8 -5.3 .7 -8.6 .8 8 .7 -.5 .8 4.3 .7 -6.6 .8 2.2 .7 2.8 .8 3 .7 -.7 .8 4.5 .7 2 .8 -1.4 .7 -5.8 .8 -5.1 .7 4.8 .8 1.9 .7 3.2 .8 8 .7 -5.8 .8 -5 .7 -1.9 .8 8 .7 -.4 .8 -4.8 .8 -3.3 .7 8.6 .8 4.9 .7 -.8 .8 -10.2 .7 6.7 .8 1.9 .7 -4.6 .8 5.9 .7 -3.2 .8 10.2 .7 -9.6 .8 14.6 .7 -3.5 .8 -3.6 .7 -.4 .8 7.6 .7 -10.7 .8 5.2 .7 -3.8 .8 11.4 .7 -11.1 .8 .7 .7 -12.4 .8 16.1 .7 -3.5 .8 6.1 .7 -12.4 .8 4 .7 13.8 .8 -12.6 .7 6.2 .8 4.7 .7 -5 .8 .1 .8 7.4 .7 -10.6 .8 7 .7 -5 .8 -5.2 .7 7.5 .8 8.1 .7 -9.1 .8 -3.1 .7 3.2 .8 -1.5 .7 6.3 .8 -9.2 .7 12 .8 -2.8 .7 5.2 .8 -10.1 .7 8.9 .8 -11.6 .7 10.1 .8 -4.7 .7 -5.2 .8 12 .7 4.4 .8 2.4 .7 -7.9 .8 -3.9 .7 10.7 .8 -14.6 .7 6.9 .8 -9.7 .7 10 .8 .8 .7 -4 .8 9 .7 -7.1 .8 3.7 .8 .5 .7 -4 .8 -13.1 .7 11.7 .8 3.8 .7 -6.9 .8 6.8 .7 -9 .8 13.3 .7 .4 .8 -.9 .7 -4.9 .8 5.2 .7 -8.8 .8 3.4 .7 7.8 .8 -6.1 .7 3.2 .8 1.9 .7 7.1 .8 -9.9 .7 1.2 .8 -.3 .7 -5.1 .8 11.5 .7 -13 .8 7.9 .7 13.1 .8 -7.3 .7 -13.1 .8 7.9 .7 16.3 .8 -11.1 .7 13.1 .8 -13.9 .8 -9.6 .7 15.3 .8 -2.5 .7 3.5 .8 -7.5 .7 .4 .8 3.2 .7 -2.4 .8 11.7 .7 2 .8 -7.4 .7 7.2 .8 -9.2 .7 2.6 .8 -7.5 .7 17.4 .8 -10.1 .7 10.9 .8 .3 .7 -3.8 .8 -1.3 .7 -7 .8 11.3 .7 -1 .8 3.2 .7 -4 .8 -8.8 .7 .9 .8 12.3 .7 4.4 .8 -10.7 .7 1.4 .8 2.6 .7 -.4 .8 .8 .8 -2.9 .7 2.9 .8 -4.1 .7 2.9 .8 4.7 .7 -3.3 .8 -3.6 .7 5.5 .8 -7.8 .7 2.8 .8 -2 .7 7.9 .8 2.2 .7 -5.5 .8 -2.7 .7 8 .8 -1 .7 -10.1 .8 14.7 .7 0 .8 -6.5 .7 1.3 .8 0 .7 -1.9 .8 5.4 .7 -6.4 .8 2.6 .7 2.7 .8 -10.2 .7 6.8 .8 -4.1 .7 4.6 .8 -.2 .7 1.8 .8 1.9 .7 -6.5 .8 7.4 .8 -11.4 .7 14.9 .8 -5.8 .7 4.8 .8 -15.4 .7 18.4 .8 -9.6 .7 3.3 .8 -1.5 .7 -1.8 .8 -3.7 .7 -10.7 .8 16.6 .7 1.6 .8 -16.1 .7 10.1 .8 -2.9 .7 -3.1 .8 -1.9 .7 5.6 .8 -5.5 .7 3.5 .8 .4 .7 .2 .8 2.6 .7 8 .8 1.9 .7 -6.9 .8 5.4 .7 .4 .8 -7.7 .7 16.9 .8 -11.5 .7 13.2 .8 -17.9 .8 8.8 .7 9.3 .8 -1.2 .7 1 .8 -2.5 .7 12.1 .8 -10.4 .7 2 .8 -5.4 .7 .1 .8 12.3 .7 .5 .8 -17.1 .7 7.3 .8 10.2 .7 -6 .8 5.2 .7 -14.9 .8 11.1 .7 -.7 .8 .5 .7 -3.6 .8 3.5 .7 10 .8 -15.3 .7 5.7 .8 -1.2 .7 .4 .8 11.4 .7 -1 .8 -10.5 .7 5 .8 -7.2 .7 6.4 .8 -3.7 .8 10.2 .7 -5.4 .8 -8.1 .7 -3.9 .8 3.8 .7 17.7 .8 -16.6 .7 -2.3 .8 4.1 .7 1.2 .8 6.2 .7 -7.4 .8 13.4 .7 -8.8 .8 1.8 .7 6.2 .8 -6.5 .7 1 .8 1.9 .7 -7.2 .8 1.2 .7 6.8 .8 -7.7 .7 1.3 .8 8.4 .7 -1.7 .8 -1.2 .7 -7.8 .8 16.9 .7 -11.3 .8 -.7 .7 .8 .8 -3.5 .7 3.2 .8 12.2 .7 -18.8 .8 20.1 .8 -17.2 .7 -.5 .8 12.1 .7 2.9 .8 -12.5 .7 6.7 .8 -8.7 .7 2.3 .8 -2.2 .7 4.8 .8 -4.2 .7 4.2 .8 -2.5 .7 1.9 .8 .4 .7 -4 .8 1.6 .7 -4.1 .8 9 .7 1.3 .8 -5.9 .7 .5 .8 -1.4 .7 .6 .8 3.3 .7 -9.8 .8 1.3 .7 8.2 .8 4.4 .7 -8.3 .8 8 .7 .8 .8 -4.4 .7 11.4 .8 -12.5 .8 1.4 .7 -6.7 .8 .6 .7 6 .8 2.6 .7 -4.2 .8 .9 .7 .8 .8 3.5 .7 -13 .8 13.2 .7 -8.7 .8 7.1 .7 1.6 .8 -11.6 .7 13.4 .8 -5.6 .7 -3.1 .8 12.3 .7 -16.2 .8 -1.2 .7 9.1 .8 1.3 .7 -3.4 .8 4.3 .7 -14.2 .8 16.6 .7 -4.3 .8 -6.5 .7 -.5 .8 9 .7 -.2 .8 -5.4 .7 4.3 .8 -.1 .7 5.7 .8 -10.3 .8 10.6 .7 -4.5 .8 0 .7 2.9 .8 -5.1 .7 -4.6 .8 -.8 .7 14.3 .8 -14.2 .7 14.9 .8 -8.8 .7 9.8 .8 -10.3 .7 6.7 .8 -.3 .7 3.4 .8 -5.8 .7 4.7 .8 6.1 .7 -15 .8 12.7 .7 -10.6 .8 10.8 .7 -6.8 .8 9.7 .7 -8.5 .8 -1 .7 8.2 .8 -6.4 .7 .5 .8 6.3 .7 2.7 .8 -2.7 .7 -14 .8 11.8 .8 .1 .7 3.2 .8 1.2 .7 .1 .8 -2.5 .7 8.2 .8 -11 .7 -2.4 .8 -2.8 .7 4.7 .8 6.2 .7 -3.7 .8 7.2 .7 -7 .8 -2.5 .7 10.6 .8 -8.6 .7 7 .8 -17.2 .7 4.9 .8 4.1 .7 -2.5 .8 6.6 .7 -.7 .8 .8 .7 -5.5 .8 .1 .7 1.2 .8 10.9 .7 -9 .8 6.2 .7 -8.8 .8 -3 .7 7.9 .8 4.3 .8 -13.3 .7 5.8 .8 6 .7 -4.5 .8 -.1 .7 5.5 .8 -3 .7 .2 .8 -3.3 .7 4.1 .8 -3.9 .7 9.9 .8 -18.5 .7 12.2 .8 3.3 .7 -8.3 .8 8 .7 -6.4 .8 7.3 .7 5 .8 -9.4 .7 12.6 .8 -11.1 .7 -11.1 .8 9.5 .7 2.9 .8 .7 .7 -1.1 .8 2.2 .7 -2.7 .8 7.8 .7 -4.9 .8 -2.1 .7 10 .8 -15.4 .7 -2.9 .8 6.1 .8 -7.7 .7 13.9 .8 -4 .7 12.2 .8 -15.1 .7 -1.2 .8 9.4 .7 -.1 .8 .3 .7 -6.1 .8 0 .7 5.8 .8 -3.4 .7 3.7 .8 2.8 .7 -6.9 .8 4.3 .7 -12.2 .8 17.5 .7 -.3 .8 -6.6 .7 -1.8 .8 1.9 .7 .7 .8 -1.5 .7 -2.8 .8 4.7 .7 4.6 .8 -15.4 .7 7 .8 -1.5 .7 -1.6 .8 5.5 .7 -10.8 .8 8.8 .8 6.3 .7 .2 .8 -1 .7 -1.7 .8 2.4 .7 -3.2 .8 1.6 .7 1.3 .8 3.8 .7 -2.2 .8 -.7 .7 -11.8 .8 8.8 .7 -.6 .8 -3.4 .7 -2.5 .8 8.3 .7 -2.8 .8 -1.9 .7 -3.9 .8 1.6 .7 1.2 .8 4.1 .7 6.5 .8 -7.1 .7 -10.8 .8 11.9 .7 .2 .8 -7.3 .7 -1.6 .8 6.6 .7 3.7 .8 -1.7 .7 5.7 .8 -8.4 .8 .7 .7 -4.3 .8 9.1 .7 -3.8 .8 1.7 .7 -13.8 .8 2.3 .7 10.6 .8 1.2 .7 -5.1 .8 .6 .7 5.1 .8 -7.5 .7 4.1 .8 -4.8 .7 1.9 .8 7 .7 -12.6 .8 4.9 .7 -7.1 .8 12.5 .7 -.6 .8 10.9 .7 -13.7 .8 3.2 .7 4.4 .8 -1.9 .7 -4.6 .8 7.6 .7 -16.8 .8 13.4 .7 -5.8 .8 0 .7 -1.1 .8 7 .7 -6.5 .8 6 .8 8 .7 -11.8 .8 4.3 .7 -3.2 .8 -3.2 .7 9.5 .8 3.4 .7 -9 .8 3.7 .7 -.7 .8 -2.7 .7 7.8 .8 -13.5 .7 17.2 .8 -9.7 .7 11.3 .8 -6 .7 -2.6 .8 -7.6 .7 1.9 .8 9.8 .7 -6.7 .8 8 .7 -10.4 .8 11.5 .7 -5.1 .8 2.1 .7 -6.1 .8 2.4 .7 4.6 .8 -1.5 .7 -5.3 .8 5.7 .7 -8 .8 17 .8 -6.9 .7 -5 .8 1.1 .7 -3.4 .8 5.5 .7 -10.5 .8 10.2 .7 8.3 .8 -18 .7 11 .8 -3.4 .7 2 .8 -4.6 .7 10.4 .8 -10.8 .7 11 .8 .6 .7 -3.9 .8 1.9 .7 -12 .8 6.3 .7 -6.9 .8 13.3 .7 2.7 .8 -12.6 .7 8.3 .8 -2 .7 -7.8 .8 7.5 .7 2.2 .8 4.5 .7 -5.1 .8 3.7 .7 6.3 .8 -3.6 .8 -9 .7 6.4 .8 5.7 .7 3.3 .8 -7.2 .7 2 .8 -1.1 .7 5.6 .8 -5.1 .7 .8 .8 -9.4 .7 2.9 .8 -5.6 .7 3.2 .8 5.8 .7 4 .8 -.2 .7 -2.6 .8 8.1 .7 -16.2 .8 6.1 .7 7.3 .8 -5.1 .7 -.9 .8 3.9 .7 -7.9 .8 .2 .7 1.7 .8 10.7 .7 -14.8 .8 3.3 .7 13.6 .8 -8.6 .7 -3 .8 -7.5 .7 9.7 .8 -.8 .8 4.8 .7 -8.4 .8 .8 .7 7.4 .8 -8.5 .7 12.2 .8 -8.2 .7 2.9 .8 -4.7 .7 10.9 .8 -10.6 .7 9.1 .8 -8.5 .7 4.4 .8 -5.8 .7 7.8 .8 3.8 .7 -9.6 .8 11.1 .7 -8 .8 -3.8 .7 4.8 .8 -3.2 .7 3.3 .8 -3.3 .7 -5 .8 13.3 .7 -4.6 .8 -2.6 .7 4.6 .8 -9.2 .7 5.4 .8 4.5 .7 3.3 .8 -5.4 .8 3.2 .7 -12 .8 8.2 .7 4.2 .8 2.3 .7 -11.6 .8 13 .7 3.1 .8 -9.3 .7 -8.8 .8 11.3 .7 0 .8 -5 .7 8.6 .8 2 .7 -13 .8 -.1 .7 6.2 .8 4.4 .7 -11.3 .8 2.2 .7 2.4 .8 -2.5 .7 2.8 .8 5.8 .7 -8.7 .8 7.6 .7 -3.3 .8 -1.2 .7 -5.1 .8 7.7 .7 1.4 .8 -6.1 .7 8.1 .8 .5 .8 -3.9 .7 -4.7 .8 3.7 .7 4.9 .8 0 .7 -4.5 .8 -.5 .7 4.5 .8 -.3 .7 1.8 .8 -9.7 .7 4.6 .8 4.7 .7 -7.3 .8 4 .7 -3.8 .8 7.9 .7 1.7 .8 -8.3 .7 12.8 .8 -6.3 .7 -5.1 .8 3.9 .7 -4.4 .8 7 .7 -5.3 .8 -3.2 .7 2.9 .8 -4.5 .7 -4.6 .8 4.1 .7 9 .8 -5 .7 4.5 .8 -3.8 .7 2 .8 1.7 .8 2.7 .7 -8.2 .8 .7 .7 4.2 .8 7.1 .7 -5.8 .8 -2 .7 .3 .8 -.3 .7 -1.6 .8 6.9 .7 4.7 .8 -7.1 .7 -7.7 .8 -1.5 .7 17 .8 -16.4 .7 18.1 .8 -7.9 .7 -2.7 .8 4.6 .7 -3.6 .8 7.5 .7 -9.6 .8 3.7 .7 -3.8 .8 4.9 .7 1.4 .8 -9.5 .7 -1.3 .8 11.9 .7 -.9 .8 -1.3 .7 -5.2 .8 -2 .8 .7 .7 4.7 .8 -4.4 .7 .1 .8 6.1 .7 6 .8 1.2 .7 -7.4 .8 4.1 .7 -2.9 .8 -.4 .7 -1.9 .8 -2.4 .7 .5 .8 3.5 .7 5.5 .8 -12.4 .7 3.6 .8 -2.7 .7 8.3 .8 7 .7 -7.7 .8 -7.9 .7 8 .8 6.8 .7 -12.3 .8 -6.7 .7 1.3 .8 11.1 .7 -10.6 .8 15.5 .7 -17 .8 9.5 .7 -5 .8 9.7 .7 -2.2 .8 1.3 .8 .5 .7 -6.8 .8 4.2 .7 -4.5 .8 2.5 .7 2.5 .8 -2.5 .7 -4.4 .8 .4 .7 .8 .8 .4 .7 -.2 .8 11.4 .7 -2.4 .8 -2.2 .7 4.9 .8 -3.8 .7 -4.4 .8 7.4 .7 -2.7 .8 -11.5 .7 19.4 .8 -10.5 .7 -7.1 .8 13.8 .7 -5.3 .8 .2 .7 5.8 .8 -2.4 .7 -2.2 .8 -.4 .7 -.5 .8 -1.1 .7 -5.2 .8 11 .8 -4.7 .7 -.4 .8 3.9 .7 -6.3 .8 1.3 .7 5 .8 -3.9 .7 -3.8 .8 .3 .7 14.7 .8 -12.3 .7 12.3 .8 -12.9 .7 4.9 .8 -3.5 .7 -3.1 .8 3.8 .7 10.8 .8 -12.5 .7 -1.1 .8 6.4 .7 -6.2 .8 1 .7 -2.7 .8 10.7 .7 -1.2 .8 -12.6 .7 12.8 .8 -4 .7 .8 .8 -2.9 .7 4.4 .8 1.8 .7 -6.2 .8 3.6 .8 -.1 .7 -3.3 .8 1.2 .7 2 .8 4.2 .7 -6.5 .8 3 .7 4.5 .8 1.7 .7 -12.3 .8 7.3 .7 -1.9 .8 -1.3 .7 -.7 .8 10.6 .7 -3 .8 -5.4 .7 1.6 .8 -.7 .7 -.5 .8 4.5 .7 -5.5 .8 5.2 .7 -9.2 .8 7.3 .7 -1.5 .8 -1.9 .7 4.4 .8 -1.2 .7 -1.9 .8 7.2 .7 -6.2 .8 -.2 .7 -1.4 .8 7.1 .7 -.5 .8 -13.8 .8 6 .7 5.5 .8 2.7 .7 -1.8 .8 -2.5 .7 6.8 .8 -8.3 .7 2.8 .8 -.2 .7 .6 .8 -4.3 .7 3 .8 4.3 .7 1.5 .8 -.7 .7 -1.2 .8 -3 .7 4.1 .8 -2.7 .7 1 .8 1.5 .7 -5 .8 6.1 .7 2.7 .8 -11.1 .7 5.8 .8 .2 .7 8.6 .8 -5.8 .7 2.6 .8 1 .7 -5.8 .8 -1.7 .7 10.5 .8 1"/>
<path stroke="#00f" d="M267.4 968.9l.8 -5.9 .7 -19.5 .8 8.5 .7 -2.9 .8 -16.7 .7 .4 .8 -6 .7 -8.2 .8 -6.5 .7 -11.5 .8 20.2 .7 -14.7 .8 12 .7 -14.9 .8 -8 .7 -10.8 .8 10.9 .8 -17.7 .7 11.4 .8 -18.2 .7 .7 .8 -16.3 .7 25 .8 -21.4 .7 -5.7 .8 5.8 .7 -16.2 .8 9.3 .7 -18.4 .8 9.6 .7 -15.9 .8 -10 .7 5.8 .8 -10.8 .7 11.5 .8 -8.9 .7 .2 .8 -6.2 .7 -6.1 .8 .8 .7 6.2 .8 -12 .7 -6.6 .8 -3.7 .7 4 .8 -6.4 .7 19.4 .8 -27 .7 -1.3 .8 4.3 .7 5.8 .8 -9.7 .7 -8 .8 -1.1 .8 1.5 .7 8.6 .8 -18.8 .7 4.8 .8 -7.1 .7 5.1 .8 -2.5 .7 -19.2 .8 28.2 .7 -22 .8 -10.2 .7 -7.5 .8 1.5 .7 -1.2 .8 1.1 .7 -9 .8 .5 .7 -22.1 .8 4.1 .7 -5.6 .8 7.2 .7 -.2 .8 -20 .7 9 .8 5.5 .7 -.7 .8 -20.6 .7 12.8 .8 -4.3 .7 -9.3 .8 19.4 .7 -30.3 .8 5.4 .7 4.5 .8 -4 .8 -5.6 .7 12.5 .8 -.8 .7 -6.4 .8 -.7 .7 -11.1 .8 -11.5 .7 30 .8 -29.8 .7 29.1 .8 -21.4 .7 4.8 .8 -1.4 .7 13.4 .8 -10.3 .7 24.8 .8 -8.8 .7 .5 .8 -2.5 .7 12.2 .8 2.2 .7 21.8 .8 -3.9 .7 -17.7 .8 31.5 .7 -30 .8 37.5 .7 -26.4 .8 20 .7 10.5 .8 -3.7 .7 -5.9 .8 23.7 .7 -22.2 .8 6.7 .8 28.3 .7 -14.9 .8 13.5 .7 8.7 .8 -4.1 .7 6.5 .8 1.4 .7 3 .8 10 .7 -.2 .8 -3.4 .7 6.5 .8 -10.6 .7 -.4 .8 -.6 .7 15.9 .8 8.2 .7 -11.2 .8 -15.4 .7 13.2 .8 9.1 .7 -.4 .8 -1 .7 7.7 .8 -.5 .7 -18.4 .8 14.4 .7 -9.5 .8 7.9 .7 8.2 .8 4.7 .7 -9.1 .8 -9.8 .7 1.3 .8 7.4 .7 -12 .8 7.9 .8 5.9 .7 3 .8 -9.4 .7 5.8 .8 8.3 .7 -8.2 .8 -16 .7 15.8 .8 .6 .7 -5.1 .8 3.9 .7 -12.1 .8 22 .7 -6.8 .8 -8.5 .7 5 .8 -2.5 .7 -9.9 .8 -13.5 .7 -1.9 .8 33.7 .7 -26.8 .8 5.9 .7 6.4 .8 -8.3 .7 12.2 .8 -18.1 .7 11.8 .8 -22.5 .7 22.1 .8 -1.3 .7 -4.1 .8 -2.4 .7 -2.4 .8 2.6 .8 -1.6 .7 -18.3 .8 14.4 .7 -18.9 .8 7.4 .7 -5.5 .8 4.3 .7 -8.7 .8 4.4 .7 -9.3 .8 -5.9 .7 15.4 .8 -5.9 .7 -2.2 .8 2.2 .7 -18.8 .8 15.4 .7 -18.5 .8 10.8 .7 -6.4 .8 2.1 .7 1.8 .8 -7.9 .7 -10.3 .8 13.8 .7 -.2 .8 -6.5 .7 1 .8 -26.5 .7 14.5 .8 -3.2 .7 -17.6 .8 16.8 .7 -2.3 .8 -14.5 .7 4.8 .8 7.2 .8 3.8 .7 .3 .8 -16.6 .7 -.3 .8 4.6 .7 3.5 .8 -5 .7 3.1 .8 7.8 .7 -.3 .8 -4.9 .7 -11.3 .8 5.8 .7 9.4 .8 2.7 .7 1.7 .8 -18.8 .7 5.3 .8 -6.5 .7 -9.6 .8 11 .7 -5.7 .8 28.6 .7 -7.7 .8 -9.3 .7 7 .8 3.7 .7 12.5 .8 -7.7 .7 7.6 .8 -8 .7 8.6 .8 2.6 .7 -3 .8 -6.4 .8 10.8 .7 -11.3 .8 17.8 .7 -12.7 .8 -1.2 .7 24.5 .8 -17.7 .7 6.9 .8 -8.9 .7 4.5 .8 4.2 .7 -4.6 .8 19.9 .7 -15.9 .8 -3.8 .7 21.1 .8 -2.9 .7 -25.2 .8 15.5 .7 14 .8 -14.5 .7 4.9 .8 .9 .7 -16.8 .8 12.1 .7 14.4 .8 6 .7 -13.1 .8 -.5 .7 5.4 .8 -3.7 .7 2.4 .8 -12.3 .7 7.3 .8 3.7 .8 .5 .7 -18.7 .8 20.1 .7 -6.2 .8 .1 .7 -16.7 .8 15.3 .7 -14.1 .8 -6.6 .7 20.4 .8 -1.1 .7 .3 .8 .7 .7 -1.8 .8 9.2 .7 -2.9 .8 6.6 .7 5 .8 -13.8 .7 -1.2 .8 7.7 .7 -26.1 .8 2.4 .7 2.8 .8 -17.9 .7 20.1 .8 3.9 .7 -26.1 .8 2.8 .7 14 .8 3 .7 -27.4 .8 18.2 .7 -7.9 .8 -15.9 .7 10.7 .8 -3.6 .8 3.3 .7 -3.6 .8 -5.9 .7 -1.9 .8 -3.3 .7 3 .8 1.4 .7 -2.6 .8 -19.3 .7 -1.8 .8 -1.4 .7 16.6 .8 -10.9 .7 -13.5 .8 -5.5 .7 -.1 .8 8.3 .7 -11.7 .8 8.3 .7 9.9 .8 -18.1 .7 6.8 .8 -25.7 .7 14.3 .8 -3.4 .7 -14 .8 19.1 .7 -15.6 .8 -8.9 .7 1.5 .8 9.7 .7 -23.9 .8 12.8 .7 -11.8 .8 10.2 .8 -8.3 .7 3.3 .8 7 .7 -7.7 .8 4.2 .7 .8 .8 -3.1 .7 -1.8 .8 -1.7 .7 5.8 .8 5.6 .7 6.4 .8 -.4 .7 -25.9 .8 12.7 .7 2.4 .8 7.4 .7 -.9 .8 -22.9 .7 17.3 .8 -17.6 .7 13 .8 -2.9 .7 4.5 .8 22.2 .7 -18.7 .8 1.7 .7 7 .8 10 .7 -25 .8 32.5 .7 -21.4 .8 -1.1 .7 11.6 .8 6.1 .8 16.2 .7 -12.3 .8 -13.1 .7 4.3 .8 -6.3 .7 15.7 .8 2.2 .7 -10.3 .8 14.3 .7 -25.8 .8 11.8 .7 -3.7 .8 3.6 .7 -9.3 .8 24.5 .7 -17.3 .8 8.1 .7 12.7 .8 4.4 .7 -3.5 .8 -31.2 .7 18.3 .8 -.1 .7 -2.9 .8 -.7 .7 2.2 .8 10.6 .7 -9.7 .8 -8.2 .7 -2.2 .8 16 .7 -17.3 .8 22.5 .7 -11.1 .8 -.1 .7 6.8 .8 -5.4 .8 9.9 .7 -18.6 .8 -5.2 .7 34.9 .8 -17 .7 -23.3 .8 36.7 .7 -29.5 .8 31.9 .7 -2.7 .8 -9.2 .7 -8.7 .8 -8.7 .7 16.6 .8 -13.2 .7 13.2 .8 -13.5 .7 -13 .8 7.3 .7 6 .8 -6.7 .7 3.7 .8 -12.7 .7 20.8 .8 -23.7 .7 6.3 .8 -24.7 .7 20.3 .8 3.2 .7 -13.1 .8 -12.4 .7 -11.1 .8 10.3 .7 -4.8 .8 -23 .8 8.3 .7 .4 .8 -18.1 .7 8.6 .8 -14.3 .7 11.4 .8 -33.7 .7 11.5 .8 -11 .7 -27.9 .8 1.7 .7 -7.5 .8 10.1 .7 -22.3 .8 -5.5 .7 -8.6 .8 -5.6 .7 -13.7 .8 -10.4 .7 -13.1 .8 -17.7 .7 -44.9 .8 -17.3 .7 6.2 .8 10.8 .7 13.9 .8 24.3 .7 8.7 .8 12.9 .7 26.9 .8 -27.1 .7 34 .8 -1 .7 14.8 .8 3.8 .8 19 .7 21.7 .8 8.6 .7 -2.4 .8 12.1 .7 -14.9 .8 -5.3 .7 40.4 .8 18.6 .7 -8.3 .8 -4.4 .7 12.3 .8 16.7 .7 -19 .8 15.6 .7 7.8 .8 -13.8 .7 32.2 .8 -10.8 .7 9.7 .8 -25.1 .7 13.7 .8 13.9 .7 -9.4 .8 8.9 .7 -28.9 .8 17.8 .7 -17.6 .8 15 .7 8.3 .8 -3.1 .7 -10.1 .8 15.9 .7 4.6 .8 -5.5 .7 11.1 .8 6.2 .8 4.5 .7 -11.1 .8 12.2 .7 -6.7 .8 9.3 .7 14.8 .8 -7.3 .7 0 .8 1.3 .7 12.6 .8 12.3 .7 -4.4 .8 -8.7 .7 11.2 .8 3.1 .7 6.4 .8 -17.8 .7 13.7 .8 -7.6 .7 .6 .8 18.3 .7 -4.3 .8 -1.9 .7 14 .8 -8.1 .7 -6.7 .8 18.7 .7 -13.7 .8 3.2 .7 6.7 .8 4.8 .7 11.8 .8 -8.8 .7 -10.5 .8 13.3 .8 10 .7 -1.6 .8 2.2 .7 -7.4 .8 9.2 .7 10.3 .8 1.9 .7 -10.8 .8 2.5 .7 -.8 .8 17.7 .7 -13.2 .8 5.3 .7 -3.6 .8 .4 .7 7.8 .8 9.9 .7 -11.3 .8 16 .7 -9.2 .8 7.8 .7 14.5 .8 .9 .7 -15.6 .8 -.5 .7 -.7 .8 8.5 .7 -20.4 .8 11.3 .7 6.3 .8 -3.7 .7 -.2 .8 20.9 .7 -21.2 .8 10.4 .8 .5 .7 2.8 .8 -3.1 .7 16.7 .8 -5.7 .7 16.9 .8 -24.1 .7 13.8 .8 -10 .7 13.8 .8 9.1 .7 -17.3 .8 18.8 .7 -13.2 .8 -1.2 .7 13.5 .8 4.9 .7 -3.5 .8 2.9 .7 -1.3 .8 -2.4 .7 -11.6 .8 15.8 .7 -1.1 .8 11.7 .7 -9.3 .8 24.3 .7 -9.2 .8 -6.4 .7 10.4 .8 -5.1 .7 14 .8 -11.5 .7 16.6 .8 -17.6 .7 11 .8 .6 .8 -4.5 .7 6.4 .8 4.5 .7 -7.3 .8 4.5 .7 12.2 .8 -7.7 .7 19.7 .8 1.8 .7 -14 .8 8 .7 3 .8 3 .7 -7.9 .8 11.2 .7 -8.1 .8 4.7 .7 11.5 .8 -8.5 .7 -5.2 .8 4.2 .7 7.8 .8 -6.8 .7 -.4 .8 9.4 .7 -7 .8 23.6 .7 -19.3 .8 11 .7 -14.7 .8 9.5 .7 9.6 .8 -.9 .7 1.9 .8 -7.6 .8 6.7 .7 -1.6 .8 -7.7 .7 19.6 .8 -12.1 .7 4.3 .8 8.8 .7 -.5 .8 12.7 .7 -16.2 .8 11.7 .7 -10.3 .8 1.8 .7 8.4 .8 -2.2 .7 -7.5 .8 3.9 .7 2.7 .8 11.6 .7 -16.5 .8 7.9 .7 3.6 .8 -2.5 .7 -3.8 .8 10.2 .7 -11.7 .8 20.9 .7 -29.2 .8 3.2 .7 15.5 .8 4 .7 -.7 .8 -6.7 .7 3.6 .8 1.8 .7 -5.7 .8 4.1 .8 -3.5 .7 15.3 .8 -4.7 .7 -5.4 .8 .9 .7 -.2 .8 1.5 .7 4.5 .8 -3.9 .7 -.5 .8 6.7 .7 -3.1 .8 1.9 .7 1.3 .8 -.9 .7 -5.5 .8 6.9 .7 10.8 .8 -13.3 .7 .9 .8 3.3 .7 .9 .8 12.6 .7 -11 .8 10.5 .7 -1.9 .8 .1 .7 .1 .8 -1.2 .7 1.9 .8 5.5 .7 -21.1 .8 17.1 .7 6.4 .8 -11.3 .8 5.1 .7 7.1 .8 -16.3 .7 15 .8 -7.9 .7 10.2 .8 2.3 .7 .5 .8 -7 .7 7.9 .8 -3.2 .7 7.2 .8 -3.5 .7 -2.2 .8 12.5 .7 -13.3 .8 5.4 .7 11 .8 -4.1 .7 3.8 .8 -11.7 .7 8 .8 -6.4 .7 -5.4 .8 15.6 .7 -10.2 .8 7.7 .7 -6.6 .8 9.9 .7 .4 .8 -10.1 .7 .2 .8 -8.1 .7 12 .8 1.7 .8 -3 .7 9.5 .8 -4.8 .7 .9 .8 -3.8 .7 -5.3 .8 10.4 .7 5.5 .8 2.8 .7 -6.2 .8 -8.7 .7 6.6 .8 3.9 .7 -7.1 .8 5.5 .7 -.8 .8 -.1 .7 -.5 .8 9.3 .7 2.3 .8 5.1 .7 -8.6 .8 2.9 .7 -10.4 .8 13.4 .7 7.6 .8 -12.7 .7 8.8 .8 -5.7 .7 7.2 .8 2 .7 -12.8 .8 4.1 .7 1.5 .8 4 .7 10 .8 -7.3 .8 1.1 .7 .8 .8 -4.7 .7 11.2 .8 -3 .7 2.1 .8 -2.8 .7 -9.6 .8 12.2 .7 -6.7 .8 -1.2 .7 20.1 .8 -8 .7 -7.8 .8 8 .7 2 .8 -5.2 .7 -3.6 .8 8.6 .7 -1.2 .8 -.2 .7 -14.3 .8 13 .7 10.1 .8 -19.1 .7 4.2 .8 -2.2 .7 1.8 .8 2.3 .7 13.3 .8 -14 .7 11.7 .8 -15.4 .7 9.9 .8 -3.8 .8 -1.8 .7 4.9 .8 7 .7 -5.1 .8 2.1 .7 -3.1 .8 2.8 .7 -.3 .8 2.7 .7 -5.6 .8 -2.8 .7 .9 .8 0 .7 6.3 .8 -8 .7 9.3 .8 -2.7 .7 6.2 .8 -6.2 .7 5.3 .8 -3.7 .7 -1.4 .8 -2.9 .7 4.8 .8 -2.2 .7 -4.2 .8 .9 .7 -8.6 .8 18.8 .7 0 .8 -9.6 .7 -4.6 .8 11.8 .7 2.8 .8 -6.7 .8 -3.7 .7 11.8 .8 -2.1 .7 1.1 .8 5.3 .7 -11.3 .8 1.4 .7 11.3 .8 -6.8 .7 8.8 .8 -27.2 .7 4.8 .8 12.9 .7 -.5 .8 -9.4 .7 1.5 .8 .6 .7 9.3 .8 -12 .7 7.9 .8 -3.3 .7 -8.3 .8 15.3 .7 9.7 .8 -11.8 .7 6 .8 -3.9 .7 -1.1 .8 -8.5 .7 9 .8 -10.8 .7 8.3 .8 4.5 .7 0 .8 -5.9 .7 3.6 .8 -5.4 .8 10.6 .7 -11.3 .8 20.9 .7 -8.9 .8 -5.2 .7 11.3 .8 -15.9 .7 13 .8 -10.9 .7 4.3 .8 -3.2 .7 -1 .8 1.3 .7 4.9 .8 -2.6 .7 12.9 .8 -10 .7 -13.4 .8 9.1 .7 3 .8 3.8 .7 2 .8 -10.8 .7 9.1 .8 -5.9 .7 5.8 .8 -1.8 .7 9.2 .8 -1.1 .7 3.4 .8 -13.1 .7 1.9 .8 3.5 .7 -3.1 .8 0 .8 7 .7 10.2 .8 -10.4 .7 7.6 .8 -16.8 .7 20.2 .8 1.5 .7 -11.2 .8 -3.5 .7 6.9 .8 -12.7 .7 11.6 .8 -11.3 .7 19.5 .8 -9 .7 -3.7 .8 -7.4 .7 20.6 .8 -7.4 .7 -3.4 .8 10.1 .7 -14.1 .8 14.1 .7 1.5 .8 -8.7 .7 8.5 .8 3.1 .7 -13.6 .8 .5 .7 8.8 .8 -.1 .7 -8.5 .8 -8.3 .7 4.3 .8 15.8 .8 -9.5 .7 -2.4 .8 7.6 .7 -11.9 .8 22.7 .7 -23.3 .8 10 .7 3.4 .8 1.5 .7 -9.5 .8 4.5 .7 7.9 .8 -4.9 .7 3.3 .8 -2.7 .7 .5 .8 -5.7 .7 -1.6 .8 5.4 .7 -4.5 .8 14.5 .7 -3.7 .8 3.1 .7 -15 .8 1.3 .7 11.1 .8 -2.5 .7 .6 .8 4.3 .7 -10.8 .8 -1.3 .7 2.4 .8 16.5 .7 -11.8 .8 -4 .7 12.5 .8 -3.1 .8 -.1 .7 -1.4 .8 -4.8 .7 10.8 .8 -5.4 .7 -11.5 .8 0 .7 2.3 .8 8 .7 -8.6 .8 1.5 .7 -1.7 .8 1.9 .7 5 .8 -11.2 .7 .7 .8 8 .7 -20 .8 9.7 .7 -.9 .8 -.9 .7 7.6 .8 8.5 .7 -10.3 .8 1.8 .7 5.7 .8 -8.5 .7 6.2 .8 5.4 .7 1.2 .8 -3.8 .7 11.3 .8 -11.2 .7 3.2 .8 -1 .8 8.3 .7 2.9 .8 -4.4 .7 7.3 .8 -8 .7 3.1 .8 1 .7 -1.1 .8 1.5 .7 -6.1 .8 -5.5 .7 8.5 .8 1.2 .7 1 .8 -4.1 .7 -1 .8 17.6 .7 -6.6 .8 -2.1 .7 -.8 .8 -4.3 .7 2.8 .8 6.8 .7 -.6 .8 -8.4 .7 .5 .8 -.2 .7 -.9 .8 8.7 .7 -1.4 .8 -1.8 .7 -4.8 .8 9.9 .7 -6.5 .8 -12.5 .8 19.1 .7 -5.5 .8 -4.3 .7 10.1 .8 -19.3 .7 8.9 .8 7.2 .7 -7.5 .8 14.8 .7 -.3 .8 -9 .7 -.2 .8 8.1 .7 -5.8 .8 -8.8 .7 4.3 .8 -3.3 .7 8 .8 -2.2 .7 6.6 .8 -6 .7 -5.3 .8 -1.8 .7 14.1 .8 -1.1 .7 -11.2 .8 -3.3 .7 -.3 .8 13.8 .7 -7.2 .8 11.8 .7 -11.7 .8 .8 .7 .4 .8 4.8 .7 6.2 .8 -14.1 .8 9.5 .7 3.7 .8 -7.9 .7 -1.1 .8 7.9 .7 -8.8 .8 1.8 .7 -3.4 .8 2.3 .7 4.3 .8 .6 .7 -3.1 .8 1.7 .7 -7.3 .8 17.9 .7 -16.6 .8 8.5 .7 -6.9 .8 4.2 .7 -10.7 .8 7.1 .7 -2.9 .8 8.3 .7 -1.2 .8 -5.4 .7 -.3 .8 7.3 .7 -4.7 .8 5.7 .7 -1.6 .8 -4 .7 1 .8 -8.3 .7 9.7 .8 -1.2 .8 1.1 .7 7.9 .8 -7 .7 -.7 .8 -.1 .7 -2.2 .8 9.7 .7 -7.7 .8 6.9 .7 -3 .8 -7.7 .7 5.1 .8 4.7 .7 -7.8 .8 2.3 .7 -1.6 .8 .1 .7 5.1 .8 -8.4 .7 2.6 .8 2.5 .7 -13.1 .8 10.5 .7 2.2 .8 1.5 .7 -5.5 .8 -1.5 .7 9.5 .8 -8.2 .7 6 .8 -1.8 .7 -4.2 .8 1.6 .7 -1.5 .8 9.6 .7 -4 .8 -9.7 .8 19 .7 -2.1 .8 -.4 .7 -11.1 .8 2.5 .7 -.1 .8 11.1 .7 -6.9 .8 1.4 .7 -2.4 .8 -5.6 .7 12.2 .8 7.3 .7 -12.7 .8 -2.9 .7 1.5 .8 .5 .7 -4.1 .8 5.2 .7 1.1 .8 -5.8 .7 10.2 .8 -4.3 .7 -3.4 .8 6.3 .7 8.3 .8 -.8 .7 -1.2 .8 .2 .7 -.5 .8 -1 .7 .9 .8 6.1 .7 -12.1 .8 6.4 .8 -11 .7 10.5 .8 4 .7 -8.7 .8 10.7 .7 -13.4 .8 12.9 .7 -9 .8 3.3 .7 -3.7 .8 5.3 .7 -4 .8 6.7 .7 -5.5 .8 1.3 .7 -2.5 .8 3.6 .7 -4.5 .8 1.2 .7 -5.7 .8 4.7 .7 .4 .8 1.3 .7 1.1 .8 -8 .7 11.9 .8 7.3 .7 -11.1 .8 -10 .7 14 .8 -4 .7 -1 .8 1.9 .7 -.6 .8 -1.1 .8 4 .7 -1.5 .8 -2.8 .7 5.2 .8 2.9 .7 .3 .8 -11.5 .7 5.5 .8 2.9 .7 -2.2 .8 -1.3 .7 6.6 .8 -4 .7 .8 .8 -9.8 .7 .6 .8 4.8 .7 3.6 .8 3.9 .7 -8.3 .8 12 .7 -6.8 .8 -3.1 .7 6.6 .8 3.4 .7 -6.6 .8 0 .7 1.4 .8 2.7 .7 -4.8 .8 1.1 .7 1.2 .8 -1.4 .7 2.7 .8 -5.2 .7 -6.1 .8 7.2 .8 .9 .7 11.3 .8 -4 .7 -3.3 .8 -4.3 .7 -3.3 .8 2.6 .7 5.8 .8 -3.1 .7 -4.4 .8 6.2 .7 -4.2 .8 5.6 .7 7.2 .8 -5 .7 -15.8 .8 17.2 .7 -8.1 .8 4 .7 .4 .8 -.4 .7 -10 .8 15.1 .7 -10.9 .8 .3 .7 5.7 .8 2.4 .7 -6.3 .8 -4.9 .7 10 .8 -3.5 .7 5.7 .8 1.9 .7 -12.2 .8 -.1 .8 5.5 .7 -3.4 .8 12.7 .7 -7.8 .8 .1 .7 .7 .8 6.2 .7 -5.2 .8 2 .7 -7.4 .8 7.1 .7 -5.6 .8 -.8 .7 -.1 .8 8.8 .7 -7.5 .8 3.6 .7 -1.4 .8 2 .7 -5.4 .8 -3.7 .7 5 .8 2.1 .7 -4.7 .8 4.1 .7 3.5 .8 -13.2 .7 17.4 .8 -2.5 .7 -3.3 .8 4.3 .7 -15.7 .8 10.8 .7 1.2 .8 .5 .8 -.2 .7 6.9 .8 -5.6 .7 -6.4 .8 -4.2 .7 2.5 .8 2.9 .7 2.9 .8 -1.1 .7 1.3 .8 -4 .7 .9 .8 3.9 .7 -3.1 .8 -2.1 .7 1 .8 4.6 .7 -4.8 .8 1.1 .7 10.5 .8 -9.5 .7 1.6 .8 4.6 .7 3.1 .8 -5.1 .7 -9.7 .8 17.8 .7 -15.6 .8 -1.2 .7 1.9 .8 11.4 .7 -7.2 .8 -9 .7 18.8 .8 -16.7 .7 17.2 .8 -20.3 .8 10.9 .7 1 .8 -2.8 .7 2.8 .8 5.9 .7 -4 .8 2.8 .7 -2.7 .8 .6 .7 -3.5 .8 2.7 .7 4.9 .8 1.2 .7 -10.8 .8 2.8 .7 4.1 .8 -1.3 .7 -3.2 .8 -5.9 .7 11.5 .8 -4.6 .7 13.5 .8 -4.1 .7 -3.5 .8 -8.2 .7 2.9 .8 9.1 .7 -9.1 .8 2.8 .7 3.4 .8 1 .7 -4.6 .8 4.3 .7 -10.4 .8 8.2 .8 -.4 .7 8.8 .8 -6 .7 -12.7 .8 18.4 .7 3.7 .8 -8.2 .7 .8 .8 4.5 .7 -7.6 .8 -.1 .7 1.5 .8 -12.1 .7 8.5 .8 6 .7 -.2 .8 -10.1 .7 6.3 .8 -1.4 .7 -.7 .8 8.1 .7 -8.7 .8 3.3 .7 4.3 .8 -7.4 .7 4.4 .8 -4.6 .7 4.8 .8 -.4 .7 3.7 .8 -5.1 .7 .9 .8 -6.2 .7 4.8 .8 -1.8 .8 -1.2 .7 4.6 .8 1.8 .7 -.2 .8 5.8 .7 -7.8 .8 -.8 .7 -6.6 .8 15.8 .7 -1.9 .8 -.2 .7 -6.6 .8 .9 .7 .3 .8 -3.3 .7 8 .8 -2.1 .7 6.4 .8 -4.8 .7 -1.7 .8 4.2 .7 .4 .8 -8.5 .7 -2.3 .8 2.2 .7 10 .8 -1.2 .7 3.4 .8 -5.9 .7 1.6 .8 -3.5 .7 11.2 .8 -5.8 .7 4.1 .8 -4.9 .7 -5.7 .8 8.4 .8 -11.8 .7 11.1 .8 -4.3 .7 2.6 .8 -7.4 .7 6.1 .8 -3.2 .7 -.9 .8 10.6 .7 -4 .8 -4.1 .7 -1.2 .8 1.4 .7 2.7 .8 .9 .7 -1 .8 -8.4 .7 8.2 .8 1.2 .7 2.4 .8 -3.5 .7 -.4 .8 1.1 .7 -2.7 .8 12.3 .7 -13.1 .8 -.9 .7 5.9 .8 .1 .7 1.8 .8 -3.6 .7 -1.7 .8 -1.4 .7 4.2 .8 1.4 .8 -1.4 .7 -5.3 .8 -.3 .7 11.3 .8 -4.9 .7 -.8 .8 9.2 .7 -3.9 .8 -10.2 .7 4.8 .8 5.9 .7 -1.4 .8 -1.4 .7 6 .8 -13.2 .7 10 .8 -6 .7 8 .8 -5.7 .7 -7 .8 8.7 .7 -11.7 .8 15.8 .7 -3.4 .8 4 .7 -4 .8 -.4 .7 5.9 .8 -2.8 .7 -10.3 .8 4.4 .7 9.2 .8 -12.1 .7 -.3 .8 2 .8 -3 .7 7.4 .8 -1.5 .7 5.6 .8 -5.8 .7 8.7 .8 -8.6 .7 5.5 .8 1.4 .7 -3.6 .8 -2.5 .7 -5.2 .8 1.2 .7 7.6 .8 -4.2 .7 4.6 .8 -5.8 .7 3.2 .8 .4 .7 3.1 .8 -4.8 .7 5 .8 -10.7 .7 1.8 .8 6.4 .7 -1 .8 2.9 .7 -9.3 .8 8.7 .7 -8.8 .8 13.7 .7 -9.1 .8 1.4 .7 4.7 .8 -.7 .7 -4 .8 1.7 .8 8.7 .7 -11.8 .8 11.3 .7 -9.2 .8 -2.8 .7 11.3 .8 -2.7 .7 -2.3 .8 4.4 .7 -5.2 .8 -1.1 .7 4.7 .8 -1.1 .7 -4.1 .8 8.8 .7 -3.5 .8 5.4 .7 2.6 .8 -15.1 .7 8.2 .8 -.7 .7 -6.8 .8 7.7 .7 -13.2 .8 5.5 .7 8.9 .8 -9.7 .7 3.3 .8 2.6 .7 -5.4 .8 2.8 .7 4.6 .8 -1.1 .7 -1.4 .8 7 .8 -6.7 .7 4.4 .8 -2.9 .7 -6.3 .8 2 .7 6.5 .8 -8.5 .7 7.2 .8 2.1 .7 -7.7 .8 -3.1 .7 13 .8 2.8 .7 -6.5 .8 6.6 .7 -4.8 .8 -5 .7 3.2 .8 2.4 .7 -13.3 .8 11.6 .7 4.4 .8 -2.3 .7 -4.6 .8 .2 .7 -6.9 .8 12 .7 -13.3 .8 13.2 .7 -1.6 .8 -3.4 .7 4.1 .8 2 .7 -6.4 .8 -3.6 .7 10 .8 -4.3 .8 1.6 .7 -5.9 .8 11.1 .7 -2.2 .8 -9.8 .7 -2.1 .8 9.3 .7 -1.9 .8 -1.9 .7 -.3 .8 2.8 .7 1.2 .8 .2 .7 6.8 .8 -.5 .7 -16.8 .8 14 .7 2.3 .8 -13.1 .7 4.4 .8 .9 .7 5.4 .8 -1.4 .7 -.4 .8 -.3 .7 3.3 .8 -2.5 .7 -5.6 .8 .1 .7 1.4 .8 11 .7 -6.2 .8 1.6 .7 4.4 .8 -5.6 .8 -10.3 .7 10.1 .8 -3.8 .7 .3 .8 -.6 .7 2.5 .8 -4.6 .7 9.7 .8 -1.3 .7 -.8 .8 -.2 .7 -6.2 .8 8.5 .7 -7.9 .8 -2.8 .7 5.8 .8 2.1 .7 .3 .8 4 .7 -6.2 .8 7.1 .7 1.6 .8 -5.2 .7 -5.9 .8 10.4 .7 -5.6 .8 .7 .7 -6.8 .8 -1.6 .7 14.8 .8 -3.3 .7 -6.7 .8 1.5 .7 -3.2 .8 5.2 .8 -8.8 .7 12.5 .8 -1.7 .7 3.1 .8 -4.4 .7 2.4 .8 -.7 .7 .4 .8 -4.7 .7 7.3 .8 -10.3 .7 3.4 .8 2 .7 10 .8 -13.8 .7 5.5 .8 .7 .7 -8.9 .8 16.8 .7 -5.1 .8 -3.1 .7 -2.2 .8 4.3 .7 -13.1 .8 16.9 .7 -8.4 .8 5.9 .7 -8.7 .8 1.7 .7 -7.2 .8 8.7 .7 1 .8 -2.6 .7 9.8 .8 -7.4 .7 .2 .8 -3.5 .8 6.6 .7 -4.5 .8 1.6 .7 -3.7 .8 9.4 .7 1 .8 -7.1 .7 3.1 .8 -4.3 .7 6.9 .8 -.1 .7 -6.9 .8 5.7 .7 -10.2 .8 7.2 .7 -3.8 .8 5.3 .7 .2 .8 -6.6 .7 .9 .8 2.8 .7 .8 .8 .3 .7 1.7 .8 -2.3 .7 10.3 .8 -6.4 .7 -4.4 .8 8 .7 -2.4 .8 2.3 .7 0 .8 -9.3 .7 3.1 .8 1.1"/>
</g>
<rect x="173.5" y="25.6" width="1597.4" height="1174.9" fill="none" stroke="#000" stroke-width="4.7" stroke-linejoin="round"/>
<g stroke="#000" stroke-width="4.5" stroke-linecap="round">
<line x1="267.43" y1="1200.5" x2="267.43" y2="1188.4"/><line x1="361.35" y1="1200.5" x2="361.35" y2="1176.7"/><line x1="455.27" y1="1200.5" x2="455.27" y2="1188.4"/><line x1="549.20" y1="1200.5" x2="549.20" y2="1176.7"/><line x1="643.12" y1="1200.5" x2="643.12" y2="1188.4"/><line x1="737.05" y1="1200.5" x2="737.05" y2="1176.7"/><line x1="830.98" y1="1200.5" x2="830.98" y2="1188.4"/><line x1="924.90" y1="1200.5" x2="924.90" y2="1176.7"/><line x1="1018.83" y1="1200.5" x2="1018.83" y2="1188.4"/><line x1="1112.75" y1="1200.5" x2="1112.75" y2="1176.7"/><line x1="1206.67" y1="1200.5" x2="1206.67" y2="1188.4"/><line x1="1300.60" y1="1200.5" x2="1300.60" y2="1176.7"/><line x1="1394.53" y1="1200.5" x2="1394.53" y2="1188.4"/><line x1="1488.45" y1="1200.5" x2="1488.45" y2="1176.7"/><line x1="1582.38" y1="1200.5" x2="1582.38" y2="1188.4"/><line x1="1676.30" y1="1200.5" x2="1676.30" y2="1176.7"/>
</g>
<g font-size="48.5" text-anchor="middle">
<text x="173.50" y="1263">0</text><text x="361.35" y="1263">10</text><text x="549.20" y="1263">20</text><text x="737.05" y="1263">30</text><text x="924.90" y="1263">40</text><text x="1112.75" y="1263">50</text><text x="1300.60" y="1263">60</text><text x="1488.45" y="1263">70</text><text x="1676.30" y="1263">80</text>
</g>
<text x="820.8" y="1358" font-size="60">2</text>
<text transform="translate(854.1,1358) scale(1.154,1)" font-size="52.5" style="font-family:'Liberation Serif',serif">θ</text>
<text x="898.3" y="1358" font-size="59.5">(degree)</text>
<text transform="translate(63.6,798.4) rotate(-90)" font-size="58.4">Intensity (a.u.)</text>
<g stroke-width="1.8">
<line x1="1133" y1="490.4" x2="1228.5" y2="490.4" stroke="#000"/>
<line x1="1133" y1="542.4" x2="1228.5" y2="542.4" stroke="#f00"/>
<line x1="1133" y1="594.4" x2="1228.5" y2="594.4" stroke="#00f"/>
</g>
<g font-size="42">
<text x="1239.7" y="504.9">PT1001 before</text>
<text x="1239.7" y="557">PT1001 after UV</text>
<text x="1239.7" y="609">PT1001 after Vis</text>
</g>
</svg>
</body></html>
